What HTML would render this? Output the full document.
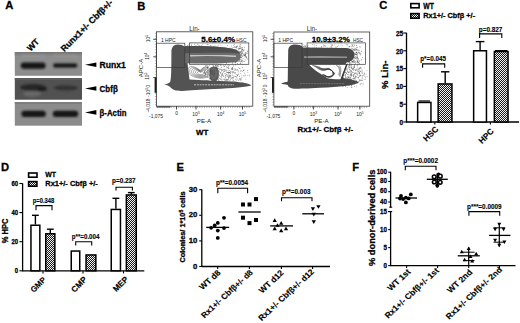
<!DOCTYPE html>
<html><head><meta charset="utf-8"><style>
html,body{margin:0;padding:0;background:#fff;width:520px;height:323px;overflow:hidden}
svg{display:block;font-family:"Liberation Sans",sans-serif}
text{font-family:"Liberation Sans",sans-serif}
</style></head><body>
<svg width="520" height="323" viewBox="0 0 520 323">
<defs>
<linearGradient id="gtop" x1="0" y1="0" x2="0" y2="1"><stop offset="0" stop-color="#757575"/><stop offset="1" stop-color="#8d8d8d"/></linearGradient>
<filter id="bl1" x="-10%" y="-10%" width="120%" height="120%"><feGaussianBlur stdDeviation="0.5"/></filter>
<filter id="bl2" x="-20%" y="-50%" width="140%" height="200%"><feGaussianBlur stdDeviation="0.9"/></filter>
<filter id="bl3" x="-20%" y="-20%" width="140%" height="140%"><feGaussianBlur stdDeviation="0.6"/></filter>
<pattern id="hatch" width="2" height="2" patternUnits="userSpaceOnUse">
<rect width="2" height="2" fill="#181818"/>
<rect x="0" y="0" width="1" height="1" fill="#f4f4f4"/><rect x="1" y="1" width="1" height="1" fill="#f4f4f4"/>
</pattern>
</defs>
<style>text[font-weight="bold"]{stroke:#000;stroke-width:0.28px}</style>
<rect width="520" height="323" fill="#fff"/>
<text x="5.3" y="9.4" font-size="11.2" font-weight="bold" text-anchor="start" fill="#000">A</text>
<text x="30.4" y="51.7" font-size="8.6" font-weight="bold" text-anchor="start" fill="#000" transform="rotate(-45 30.4 51.7)">WT</text>
<text x="64.2" y="52.3" font-size="8.7" font-weight="bold" text-anchor="start" fill="#000" transform="rotate(-45 64.2 52.3)">Runx1+/- Cbfβ+/-</text>
<g filter="url(#bl1)">
<rect x="14.8" y="52" width="67.2" height="23.8" fill="#8d8d8d"/>
<rect x="14.8" y="52" width="67.2" height="4.5" fill="url(#gtop)"/>
<rect x="14.8" y="78" width="67.2" height="21.7" fill="#515151"/>
<rect x="14.8" y="78" width="67.2" height="2" fill="#5c5c5c"/>
<rect x="14.8" y="102" width="67.2" height="23.7" fill="#8b8b8b"/>
<rect x="14.8" y="102" width="67.2" height="2" fill="#7e7e7e"/>
</g>
<g filter="url(#bl2)">
<rect x="21" y="55" width="24" height="1.3" fill="#9a9a9a"/>
<rect x="53" y="55" width="24" height="1.3" fill="#999"/>
<rect x="20.8" y="62.6" width="24.8" height="6.2" rx="3" fill="#161616"/>
<rect x="53" y="63.2" width="24.4" height="4.6" rx="2.3" fill="#1e1e1e"/>
<ellipse cx="33" cy="87.3" rx="13" ry="3.4" fill="#262626"/>
<ellipse cx="42" cy="89.3" rx="5" ry="1.8" fill="#1e1e1e"/>
<ellipse cx="32" cy="94" rx="9" ry="2.8" fill="#686868"/>
<ellipse cx="65.8" cy="87.8" rx="12" ry="2.6" fill="#333"/>
<rect x="21.4" y="110.7" width="24.4" height="6.2" rx="3" fill="#161616"/>
<rect x="52.8" y="110.7" width="25.4" height="6.2" rx="3" fill="#161616"/>
</g>
<polygon points="85,64.7 96.4,62.400000000000006 96.4,67.0" fill="#000"/>
<text x="99.6" y="67.8" font-size="8.8" font-weight="bold" text-anchor="start" fill="#000" textLength="26.2" lengthAdjust="spacingAndGlyphs">Runx1</text>
<polygon points="85,88.5 96.4,86.2 96.4,90.8" fill="#000"/>
<text x="99.6" y="91.6" font-size="8.8" font-weight="bold" text-anchor="start" fill="#000" textLength="18.2" lengthAdjust="spacingAndGlyphs">Cbfβ</text>
<polygon points="85,112.4 96.4,110.10000000000001 96.4,114.7" fill="#000"/>
<text x="99.6" y="115.5" font-size="8.8" font-weight="bold" text-anchor="start" fill="#000" textLength="26.8" lengthAdjust="spacingAndGlyphs">β-Actin</text>
<text x="137.3" y="9.5" font-size="11.2" font-weight="bold" text-anchor="start" fill="#000">B</text>
<g fill="#555"><circle cx="215.4" cy="75.1" r="0.38"/><circle cx="233.0" cy="77.3" r="0.38"/><circle cx="204.6" cy="82.8" r="0.38"/><circle cx="211.2" cy="77.5" r="0.38"/><circle cx="207.1" cy="80.7" r="0.38"/><circle cx="234.1" cy="68.8" r="0.38"/><circle cx="222.5" cy="70.1" r="0.38"/><circle cx="231.5" cy="68.4" r="0.38"/><circle cx="242.4" cy="71.7" r="0.38"/><circle cx="206.1" cy="77.0" r="0.38"/><circle cx="205.5" cy="66.1" r="0.38"/><circle cx="233.3" cy="65.1" r="0.38"/><circle cx="229.0" cy="77.7" r="0.38"/><circle cx="228.3" cy="72.2" r="0.38"/><circle cx="229.0" cy="75.3" r="0.38"/><circle cx="223.9" cy="76.1" r="0.38"/><circle cx="233.6" cy="77.4" r="0.38"/><circle cx="234.1" cy="73.1" r="0.38"/><circle cx="220.9" cy="79.4" r="0.38"/><circle cx="232.4" cy="69.3" r="0.38"/><circle cx="219.0" cy="70.6" r="0.38"/><circle cx="218.4" cy="70.8" r="0.38"/><circle cx="205.3" cy="75.8" r="0.38"/><circle cx="215.5" cy="65.9" r="0.38"/><circle cx="220.0" cy="82.7" r="0.38"/><circle cx="234.8" cy="82.0" r="0.38"/><circle cx="217.0" cy="70.0" r="0.38"/><circle cx="224.1" cy="71.6" r="0.38"/><circle cx="228.9" cy="68.5" r="0.38"/><circle cx="217.8" cy="82.1" r="0.38"/><circle cx="204.6" cy="80.4" r="0.38"/><circle cx="218.4" cy="78.2" r="0.38"/><circle cx="226.9" cy="81.3" r="0.38"/><circle cx="213.5" cy="74.9" r="0.38"/><circle cx="242.7" cy="82.4" r="0.38"/><circle cx="234.2" cy="83.4" r="0.38"/><circle cx="217.0" cy="68.0" r="0.38"/><circle cx="224.3" cy="73.3" r="0.38"/><circle cx="219.2" cy="69.2" r="0.38"/><circle cx="235.1" cy="76.3" r="0.38"/><circle cx="213.2" cy="69.5" r="0.38"/><circle cx="230.7" cy="79.6" r="0.38"/><circle cx="207.8" cy="65.6" r="0.38"/><circle cx="233.0" cy="81.3" r="0.38"/><circle cx="221.9" cy="73.9" r="0.38"/><circle cx="224.2" cy="79.0" r="0.38"/><circle cx="215.8" cy="74.9" r="0.38"/><circle cx="207.4" cy="72.0" r="0.38"/><circle cx="209.0" cy="76.3" r="0.38"/><circle cx="210.9" cy="81.1" r="0.38"/><circle cx="228.5" cy="79.6" r="0.38"/><circle cx="219.6" cy="75.7" r="0.38"/><circle cx="215.6" cy="65.7" r="0.38"/><circle cx="233.6" cy="80.6" r="0.38"/><circle cx="221.6" cy="71.3" r="0.38"/><circle cx="211.7" cy="79.0" r="0.38"/><circle cx="236.3" cy="74.4" r="0.38"/><circle cx="228.8" cy="72.5" r="0.38"/><circle cx="212.9" cy="68.0" r="0.38"/><circle cx="232.1" cy="69.2" r="0.38"/><circle cx="232.1" cy="67.9" r="0.38"/><circle cx="205.1" cy="73.5" r="0.38"/><circle cx="212.3" cy="70.4" r="0.38"/><circle cx="227.0" cy="76.6" r="0.38"/><circle cx="226.4" cy="67.0" r="0.38"/><circle cx="231.9" cy="78.6" r="0.38"/><circle cx="220.1" cy="72.3" r="0.38"/><circle cx="214.1" cy="76.2" r="0.38"/><circle cx="222.8" cy="75.2" r="0.38"/><circle cx="217.2" cy="78.3" r="0.38"/><circle cx="235.4" cy="82.0" r="0.38"/><circle cx="220.9" cy="79.7" r="0.38"/><circle cx="210.8" cy="69.6" r="0.38"/><circle cx="232.7" cy="75.4" r="0.38"/><circle cx="226.0" cy="69.1" r="0.38"/><circle cx="230.1" cy="80.2" r="0.38"/><circle cx="216.8" cy="71.0" r="0.38"/><circle cx="206.0" cy="74.1" r="0.38"/><circle cx="240.9" cy="70.2" r="0.38"/><circle cx="223.4" cy="75.1" r="0.38"/><circle cx="220.9" cy="83.0" r="0.38"/><circle cx="217.0" cy="63.6" r="0.38"/><circle cx="241.4" cy="79.9" r="0.38"/><circle cx="213.1" cy="71.8" r="0.38"/><circle cx="211.0" cy="71.4" r="0.38"/><circle cx="229.3" cy="75.8" r="0.38"/><circle cx="216.0" cy="81.3" r="0.38"/><circle cx="222.4" cy="75.4" r="0.38"/><circle cx="232.9" cy="79.9" r="0.38"/><circle cx="229.1" cy="73.0" r="0.38"/><circle cx="235.0" cy="72.5" r="0.38"/><circle cx="242.0" cy="77.2" r="0.38"/><circle cx="221.3" cy="67.1" r="0.38"/><circle cx="245.8" cy="79.1" r="0.38"/><circle cx="238.4" cy="80.2" r="0.38"/><circle cx="225.0" cy="80.7" r="0.38"/><circle cx="209.2" cy="62.1" r="0.38"/><circle cx="213.6" cy="65.2" r="0.38"/><circle cx="237.6" cy="75.0" r="0.38"/><circle cx="235.2" cy="68.9" r="0.38"/><circle cx="240.3" cy="71.4" r="0.38"/><circle cx="221.8" cy="74.8" r="0.38"/><circle cx="213.4" cy="66.4" r="0.38"/><circle cx="223.4" cy="65.4" r="0.38"/><circle cx="209.3" cy="65.4" r="0.38"/><circle cx="223.6" cy="79.3" r="0.38"/><circle cx="223.4" cy="71.3" r="0.38"/><circle cx="220.6" cy="64.2" r="0.38"/><circle cx="234.2" cy="70.0" r="0.38"/><circle cx="212.2" cy="62.0" r="0.38"/><circle cx="218.6" cy="76.8" r="0.38"/><circle cx="209.5" cy="71.1" r="0.38"/><circle cx="227.1" cy="68.0" r="0.38"/><circle cx="222.6" cy="73.7" r="0.38"/><circle cx="240.4" cy="78.6" r="0.38"/><circle cx="215.6" cy="62.3" r="0.38"/><circle cx="234.9" cy="76.2" r="0.38"/><circle cx="231.0" cy="71.9" r="0.38"/><circle cx="213.0" cy="65.6" r="0.38"/><circle cx="208.1" cy="73.1" r="0.38"/><circle cx="232.9" cy="72.6" r="0.38"/><circle cx="213.9" cy="75.0" r="0.38"/><circle cx="233.1" cy="66.6" r="0.38"/><circle cx="208.0" cy="66.7" r="0.38"/><circle cx="218.1" cy="74.5" r="0.38"/><circle cx="205.9" cy="80.4" r="0.38"/><circle cx="224.8" cy="70.0" r="0.38"/><circle cx="239.8" cy="68.5" r="0.38"/><circle cx="218.4" cy="71.7" r="0.38"/><circle cx="221.9" cy="65.2" r="0.38"/><circle cx="226.2" cy="74.7" r="0.38"/><circle cx="221.3" cy="83.2" r="0.38"/><circle cx="229.7" cy="65.3" r="0.38"/><circle cx="213.8" cy="81.0" r="0.38"/><circle cx="205.7" cy="65.8" r="0.38"/><circle cx="224.8" cy="69.8" r="0.38"/><circle cx="215.9" cy="81.9" r="0.38"/><circle cx="242.8" cy="67.4" r="0.38"/><circle cx="243.9" cy="75.3" r="0.38"/><circle cx="232.9" cy="71.8" r="0.38"/><circle cx="220.9" cy="72.8" r="0.38"/><circle cx="219.1" cy="74.6" r="0.38"/><circle cx="230.4" cy="73.7" r="0.38"/><circle cx="236.1" cy="70.7" r="0.38"/><circle cx="213.4" cy="84.9" r="0.38"/><circle cx="222.4" cy="82.5" r="0.38"/><circle cx="219.2" cy="71.2" r="0.38"/><circle cx="207.8" cy="67.0" r="0.38"/><circle cx="207.8" cy="74.7" r="0.38"/><circle cx="207.3" cy="68.0" r="0.38"/><circle cx="216.9" cy="75.2" r="0.38"/><circle cx="215.3" cy="85.9" r="0.38"/><circle cx="236.4" cy="77.8" r="0.38"/><circle cx="206.6" cy="80.7" r="0.38"/><circle cx="211.0" cy="64.3" r="0.38"/><circle cx="227.3" cy="79.3" r="0.38"/><circle cx="205.0" cy="70.0" r="0.38"/><circle cx="241.5" cy="75.8" r="0.38"/><circle cx="229.8" cy="72.5" r="0.38"/><circle cx="216.8" cy="66.3" r="0.38"/><circle cx="229.2" cy="80.9" r="0.38"/><circle cx="229.9" cy="72.5" r="0.38"/><circle cx="232.8" cy="69.4" r="0.38"/><circle cx="221.9" cy="69.3" r="0.38"/><circle cx="228.0" cy="80.0" r="0.38"/><circle cx="225.7" cy="73.4" r="0.38"/><circle cx="225.2" cy="77.1" r="0.38"/><circle cx="206.8" cy="83.2" r="0.38"/><circle cx="218.4" cy="74.1" r="0.38"/><circle cx="221.9" cy="77.9" r="0.38"/><circle cx="232.1" cy="64.8" r="0.38"/><circle cx="221.8" cy="77.0" r="0.38"/><circle cx="207.9" cy="69.3" r="0.38"/><circle cx="222.2" cy="73.4" r="0.38"/><circle cx="232.7" cy="63.2" r="0.38"/><circle cx="212.8" cy="68.1" r="0.38"/><circle cx="228.6" cy="72.2" r="0.38"/><circle cx="235.7" cy="72.3" r="0.38"/><circle cx="219.9" cy="71.9" r="0.38"/><circle cx="208.2" cy="77.7" r="0.38"/><circle cx="208.1" cy="67.0" r="0.38"/><circle cx="245.2" cy="75.0" r="0.38"/><circle cx="210.4" cy="74.8" r="0.38"/><circle cx="206.9" cy="72.3" r="0.38"/><circle cx="213.3" cy="83.7" r="0.38"/><circle cx="206.7" cy="71.4" r="0.38"/><circle cx="212.5" cy="67.5" r="0.38"/><circle cx="237.3" cy="69.8" r="0.38"/><circle cx="214.6" cy="72.5" r="0.38"/><circle cx="215.8" cy="79.2" r="0.38"/><circle cx="236.2" cy="76.8" r="0.38"/><circle cx="232.7" cy="77.3" r="0.38"/><circle cx="227.5" cy="76.1" r="0.38"/><circle cx="232.0" cy="82.4" r="0.38"/><circle cx="208.5" cy="80.8" r="0.38"/><circle cx="239.9" cy="68.6" r="0.38"/><circle cx="236.6" cy="80.1" r="0.38"/><circle cx="227.0" cy="75.7" r="0.38"/><circle cx="237.5" cy="75.6" r="0.38"/><circle cx="209.3" cy="75.4" r="0.38"/><circle cx="213.4" cy="71.6" r="0.38"/><circle cx="213.7" cy="74.1" r="0.38"/><circle cx="207.2" cy="68.2" r="0.38"/><circle cx="226.9" cy="72.3" r="0.38"/><circle cx="228.5" cy="66.2" r="0.38"/><circle cx="211.9" cy="78.3" r="0.38"/><circle cx="224.5" cy="81.9" r="0.38"/><circle cx="230.1" cy="76.2" r="0.38"/><circle cx="214.1" cy="80.7" r="0.38"/><circle cx="227.3" cy="80.2" r="0.38"/><circle cx="230.1" cy="78.4" r="0.38"/><circle cx="208.0" cy="81.4" r="0.38"/><circle cx="216.6" cy="79.2" r="0.38"/><circle cx="217.5" cy="79.2" r="0.38"/><circle cx="205.6" cy="74.5" r="0.38"/><circle cx="222.6" cy="81.9" r="0.38"/><circle cx="236.0" cy="69.5" r="0.38"/><circle cx="225.7" cy="81.8" r="0.38"/><circle cx="215.0" cy="71.8" r="0.38"/><circle cx="219.2" cy="75.9" r="0.38"/><circle cx="232.7" cy="68.5" r="0.38"/><circle cx="205.3" cy="69.8" r="0.38"/><circle cx="229.0" cy="72.1" r="0.38"/><circle cx="207.0" cy="81.7" r="0.38"/><circle cx="233.9" cy="72.4" r="0.38"/><circle cx="218.6" cy="73.3" r="0.38"/><circle cx="208.3" cy="86.1" r="0.38"/><circle cx="228.4" cy="77.4" r="0.38"/><circle cx="230.9" cy="71.2" r="0.38"/><circle cx="216.3" cy="70.3" r="0.38"/><circle cx="213.7" cy="69.8" r="0.38"/><circle cx="215.5" cy="76.2" r="0.38"/><circle cx="215.6" cy="65.7" r="0.38"/><circle cx="212.6" cy="74.0" r="0.38"/><circle cx="217.1" cy="66.7" r="0.38"/><circle cx="213.4" cy="76.8" r="0.38"/><circle cx="227.0" cy="70.8" r="0.38"/><circle cx="224.8" cy="66.2" r="0.38"/><circle cx="224.3" cy="69.2" r="0.38"/><circle cx="220.0" cy="68.9" r="0.38"/><circle cx="230.0" cy="75.6" r="0.38"/><circle cx="207.4" cy="67.5" r="0.38"/><circle cx="247.9" cy="75.5" r="0.38"/><circle cx="223.1" cy="70.0" r="0.38"/><circle cx="232.5" cy="67.5" r="0.38"/><circle cx="220.5" cy="65.4" r="0.38"/><circle cx="209.5" cy="69.2" r="0.38"/><circle cx="223.5" cy="69.7" r="0.38"/><circle cx="227.4" cy="81.2" r="0.38"/><circle cx="240.9" cy="73.5" r="0.38"/><circle cx="212.2" cy="83.0" r="0.38"/><circle cx="222.4" cy="74.4" r="0.38"/><circle cx="222.0" cy="70.4" r="0.38"/><circle cx="204.5" cy="75.2" r="0.38"/><circle cx="227.8" cy="72.7" r="0.38"/><circle cx="209.5" cy="83.5" r="0.38"/><circle cx="242.2" cy="67.8" r="0.38"/><circle cx="217.5" cy="78.2" r="0.38"/><circle cx="214.1" cy="79.6" r="0.38"/><circle cx="240.8" cy="79.2" r="0.38"/><circle cx="213.2" cy="74.9" r="0.38"/><circle cx="214.4" cy="76.3" r="0.38"/><circle cx="225.0" cy="71.1" r="0.38"/><circle cx="237.5" cy="69.3" r="0.38"/><circle cx="224.7" cy="66.6" r="0.38"/><circle cx="220.9" cy="76.6" r="0.38"/><circle cx="235.7" cy="76.6" r="0.38"/><circle cx="227.8" cy="74.6" r="0.38"/><circle cx="218.3" cy="83.1" r="0.38"/><circle cx="227.3" cy="72.5" r="0.38"/><circle cx="213.7" cy="67.8" r="0.38"/><circle cx="230.9" cy="76.0" r="0.38"/><circle cx="225.8" cy="75.7" r="0.38"/><circle cx="204.1" cy="72.4" r="0.38"/><circle cx="206.1" cy="81.5" r="0.38"/><circle cx="218.1" cy="77.3" r="0.38"/><circle cx="221.4" cy="75.0" r="0.38"/><circle cx="215.4" cy="79.5" r="0.38"/><circle cx="207.0" cy="80.5" r="0.38"/><circle cx="218.7" cy="64.2" r="0.38"/><circle cx="237.0" cy="83.0" r="0.38"/><circle cx="216.7" cy="70.6" r="0.38"/><circle cx="221.8" cy="70.2" r="0.38"/><circle cx="215.0" cy="84.0" r="0.38"/><circle cx="235.1" cy="73.6" r="0.38"/><circle cx="214.1" cy="80.7" r="0.38"/><circle cx="243.6" cy="70.3" r="0.38"/><circle cx="230.9" cy="72.3" r="0.38"/><circle cx="229.1" cy="70.7" r="0.38"/><circle cx="225.5" cy="77.9" r="0.38"/><circle cx="233.9" cy="76.2" r="0.38"/><circle cx="226.7" cy="80.6" r="0.38"/><circle cx="240.7" cy="80.8" r="0.38"/><circle cx="209.5" cy="75.1" r="0.38"/><circle cx="214.8" cy="81.6" r="0.38"/><circle cx="212.1" cy="80.9" r="0.38"/><circle cx="223.9" cy="66.8" r="0.38"/><circle cx="237.8" cy="75.6" r="0.38"/><circle cx="228.0" cy="65.0" r="0.38"/><circle cx="243.5" cy="70.2" r="0.38"/><circle cx="212.3" cy="77.3" r="0.38"/><circle cx="216.0" cy="73.0" r="0.38"/><circle cx="223.6" cy="76.7" r="0.38"/><circle cx="215.3" cy="71.9" r="0.38"/><circle cx="208.3" cy="85.1" r="0.38"/><circle cx="207.3" cy="67.7" r="0.38"/><circle cx="238.3" cy="71.0" r="0.38"/><circle cx="211.5" cy="75.2" r="0.38"/><circle cx="230.2" cy="77.3" r="0.38"/><circle cx="216.3" cy="78.9" r="0.38"/><circle cx="213.4" cy="74.5" r="0.38"/><circle cx="221.9" cy="79.3" r="0.38"/><circle cx="223.1" cy="72.4" r="0.38"/><circle cx="218.6" cy="79.5" r="0.38"/><circle cx="226.3" cy="63.5" r="0.38"/><circle cx="227.8" cy="79.5" r="0.38"/><circle cx="239.4" cy="76.2" r="0.38"/><circle cx="229.0" cy="76.9" r="0.38"/><circle cx="212.5" cy="70.7" r="0.38"/><circle cx="218.9" cy="77.7" r="0.38"/><circle cx="232.2" cy="73.8" r="0.38"/><circle cx="207.3" cy="77.4" r="0.38"/><circle cx="211.3" cy="80.7" r="0.38"/><circle cx="215.9" cy="69.4" r="0.38"/><circle cx="220.3" cy="73.4" r="0.38"/><circle cx="221.9" cy="69.7" r="0.38"/><circle cx="210.3" cy="75.4" r="0.38"/><circle cx="229.0" cy="74.1" r="0.38"/><circle cx="243.9" cy="75.9" r="0.38"/><circle cx="207.6" cy="83.1" r="0.38"/><circle cx="220.0" cy="68.9" r="0.38"/><circle cx="237.0" cy="76.0" r="0.38"/><circle cx="231.2" cy="68.9" r="0.38"/><circle cx="247.8" cy="70.5" r="0.38"/><circle cx="220.3" cy="64.9" r="0.38"/><circle cx="218.6" cy="84.3" r="0.38"/><circle cx="225.3" cy="64.4" r="0.38"/><circle cx="229.1" cy="70.5" r="0.38"/><circle cx="214.4" cy="69.1" r="0.38"/><circle cx="245.0" cy="75.9" r="0.38"/><circle cx="217.6" cy="68.4" r="0.38"/><circle cx="208.2" cy="74.7" r="0.38"/><circle cx="217.1" cy="77.2" r="0.38"/><circle cx="206.7" cy="67.2" r="0.38"/><circle cx="228.3" cy="68.1" r="0.38"/><circle cx="214.6" cy="63.0" r="0.38"/><circle cx="228.2" cy="67.7" r="0.38"/><circle cx="233.0" cy="72.6" r="0.38"/><circle cx="233.4" cy="78.8" r="0.38"/><circle cx="244.5" cy="73.0" r="0.38"/><circle cx="205.2" cy="72.4" r="0.38"/><circle cx="216.2" cy="80.8" r="0.38"/><circle cx="218.1" cy="82.5" r="0.38"/><circle cx="208.1" cy="68.3" r="0.38"/><circle cx="235.3" cy="65.0" r="0.38"/><circle cx="213.8" cy="70.7" r="0.38"/><circle cx="205.1" cy="73.7" r="0.38"/><circle cx="232.9" cy="68.1" r="0.38"/><circle cx="228.1" cy="65.8" r="0.38"/><circle cx="243.6" cy="70.1" r="0.38"/><circle cx="217.7" cy="74.6" r="0.38"/><circle cx="220.9" cy="69.4" r="0.38"/><circle cx="228.2" cy="76.6" r="0.38"/><circle cx="218.6" cy="66.4" r="0.38"/><circle cx="217.3" cy="66.0" r="0.38"/><circle cx="226.3" cy="79.1" r="0.38"/><circle cx="239.4" cy="76.8" r="0.38"/><circle cx="218.1" cy="73.1" r="0.38"/><circle cx="216.3" cy="82.5" r="0.38"/><circle cx="208.1" cy="83.1" r="0.38"/><circle cx="229.4" cy="76.3" r="0.38"/><circle cx="219.3" cy="81.0" r="0.38"/><circle cx="218.6" cy="80.5" r="0.38"/><circle cx="228.4" cy="73.3" r="0.38"/><circle cx="235.3" cy="79.2" r="0.38"/><circle cx="247.9" cy="72.2" r="0.38"/><circle cx="232.3" cy="68.2" r="0.38"/><circle cx="208.5" cy="70.3" r="0.38"/><circle cx="218.5" cy="68.2" r="0.38"/><circle cx="238.8" cy="72.9" r="0.38"/><circle cx="221.1" cy="75.8" r="0.38"/><circle cx="249.2" cy="74.8" r="0.38"/><circle cx="238.8" cy="74.2" r="0.38"/><circle cx="213.9" cy="76.9" r="0.38"/><circle cx="235.2" cy="70.1" r="0.38"/><circle cx="222.0" cy="80.6" r="0.38"/><circle cx="213.1" cy="76.2" r="0.38"/><circle cx="220.7" cy="83.2" r="0.38"/><circle cx="228.6" cy="78.3" r="0.38"/><circle cx="230.2" cy="73.9" r="0.38"/><circle cx="249.8" cy="75.9" r="0.38"/><circle cx="213.0" cy="77.9" r="0.38"/><circle cx="211.3" cy="74.6" r="0.38"/><circle cx="226.6" cy="74.2" r="0.38"/><circle cx="208.9" cy="71.0" r="0.38"/><circle cx="221.4" cy="82.6" r="0.38"/><circle cx="219.7" cy="82.8" r="0.38"/><circle cx="212.7" cy="84.2" r="0.38"/><circle cx="237.1" cy="79.0" r="0.38"/><circle cx="228.9" cy="77.3" r="0.38"/><circle cx="217.6" cy="65.5" r="0.38"/><circle cx="213.7" cy="74.2" r="0.38"/><circle cx="213.5" cy="72.8" r="0.38"/><circle cx="231.3" cy="69.1" r="0.38"/><circle cx="218.6" cy="64.9" r="0.38"/><circle cx="225.6" cy="75.1" r="0.38"/><circle cx="218.6" cy="74.3" r="0.38"/><circle cx="244.4" cy="70.1" r="0.38"/><circle cx="223.4" cy="84.0" r="0.38"/><circle cx="232.2" cy="71.1" r="0.38"/><circle cx="217.0" cy="77.9" r="0.38"/><circle cx="226.2" cy="84.3" r="0.38"/><circle cx="230.5" cy="75.8" r="0.38"/><circle cx="212.8" cy="78.4" r="0.38"/><circle cx="229.6" cy="72.7" r="0.38"/><circle cx="206.0" cy="83.3" r="0.38"/><circle cx="217.3" cy="68.9" r="0.38"/><circle cx="217.9" cy="68.5" r="0.38"/><circle cx="239.2" cy="79.8" r="0.38"/><circle cx="213.2" cy="80.7" r="0.38"/><circle cx="220.9" cy="78.3" r="0.38"/><circle cx="209.5" cy="79.0" r="0.38"/><circle cx="210.8" cy="76.9" r="0.38"/><circle cx="212.4" cy="72.4" r="0.38"/><circle cx="216.5" cy="78.5" r="0.38"/><circle cx="216.4" cy="65.5" r="0.38"/><circle cx="239.8" cy="78.3" r="0.38"/><circle cx="212.0" cy="70.8" r="0.38"/><circle cx="207.6" cy="76.5" r="0.38"/><circle cx="241.2" cy="70.3" r="0.38"/><circle cx="224.4" cy="79.2" r="0.38"/><circle cx="230.9" cy="75.8" r="0.38"/><circle cx="226.6" cy="71.9" r="0.38"/><circle cx="226.1" cy="80.0" r="0.38"/><circle cx="214.7" cy="75.0" r="0.38"/><circle cx="238.7" cy="67.6" r="0.38"/><circle cx="227.5" cy="67.7" r="0.38"/><circle cx="217.6" cy="78.1" r="0.38"/><circle cx="214.8" cy="67.5" r="0.38"/><circle cx="211.2" cy="76.1" r="0.38"/><circle cx="208.3" cy="72.2" r="0.38"/><circle cx="225.8" cy="79.9" r="0.38"/><circle cx="204.5" cy="70.3" r="0.38"/><circle cx="225.1" cy="65.6" r="0.38"/><circle cx="218.7" cy="64.8" r="0.38"/><circle cx="209.2" cy="78.2" r="0.38"/><circle cx="225.1" cy="76.8" r="0.38"/><circle cx="206.4" cy="65.7" r="0.38"/><circle cx="213.0" cy="67.6" r="0.38"/><circle cx="217.8" cy="81.7" r="0.38"/><circle cx="219.4" cy="78.7" r="0.38"/><circle cx="224.5" cy="71.3" r="0.38"/><circle cx="233.3" cy="71.7" r="0.38"/><circle cx="226.6" cy="79.4" r="0.38"/><circle cx="216.7" cy="74.3" r="0.38"/><circle cx="238.0" cy="70.9" r="0.38"/><circle cx="215.9" cy="67.1" r="0.38"/><circle cx="232.2" cy="78.0" r="0.38"/><circle cx="240.1" cy="79.5" r="0.38"/><circle cx="212.4" cy="64.4" r="0.38"/><circle cx="226.9" cy="70.6" r="0.38"/><circle cx="225.0" cy="79.9" r="0.38"/><circle cx="214.1" cy="82.4" r="0.38"/><circle cx="221.4" cy="82.3" r="0.38"/><circle cx="204.3" cy="72.0" r="0.38"/><circle cx="209.4" cy="71.2" r="0.38"/><circle cx="207.6" cy="70.5" r="0.38"/><circle cx="205.3" cy="81.3" r="0.38"/><circle cx="241.4" cy="78.6" r="0.38"/><circle cx="220.4" cy="72.7" r="0.38"/><circle cx="204.6" cy="72.0" r="0.38"/><circle cx="213.2" cy="80.4" r="0.38"/><circle cx="237.4" cy="74.9" r="0.38"/><circle cx="231.3" cy="78.0" r="0.38"/><circle cx="229.0" cy="75.8" r="0.38"/><circle cx="217.0" cy="73.3" r="0.38"/><circle cx="230.9" cy="71.7" r="0.38"/><circle cx="225.8" cy="70.6" r="0.38"/><circle cx="230.9" cy="82.3" r="0.38"/><circle cx="221.1" cy="67.3" r="0.38"/></g>
<g fill="#444"><circle cx="230.9" cy="55.9" r="0.38"/><circle cx="240.8" cy="55.1" r="0.38"/><circle cx="245.0" cy="56.1" r="0.38"/><circle cx="244.7" cy="55.2" r="0.38"/><circle cx="239.2" cy="53.3" r="0.38"/><circle cx="232.7" cy="62.5" r="0.38"/><circle cx="237.8" cy="54.3" r="0.38"/><circle cx="230.5" cy="58.2" r="0.38"/><circle cx="233.8" cy="60.9" r="0.38"/><circle cx="238.3" cy="64.7" r="0.38"/><circle cx="239.5" cy="48.7" r="0.38"/><circle cx="229.9" cy="54.0" r="0.38"/><circle cx="244.0" cy="50.0" r="0.38"/><circle cx="247.2" cy="51.0" r="0.38"/><circle cx="234.0" cy="50.0" r="0.38"/><circle cx="247.6" cy="53.2" r="0.38"/><circle cx="240.9" cy="46.6" r="0.38"/><circle cx="231.3" cy="52.9" r="0.38"/><circle cx="244.3" cy="55.0" r="0.38"/><circle cx="231.6" cy="48.8" r="0.38"/><circle cx="240.4" cy="59.5" r="0.38"/><circle cx="247.3" cy="59.0" r="0.38"/><circle cx="236.4" cy="55.6" r="0.38"/><circle cx="245.0" cy="57.6" r="0.38"/><circle cx="234.0" cy="61.4" r="0.38"/><circle cx="243.3" cy="50.5" r="0.38"/><circle cx="237.3" cy="53.4" r="0.38"/><circle cx="235.3" cy="62.2" r="0.38"/><circle cx="236.9" cy="51.1" r="0.38"/><circle cx="245.9" cy="60.1" r="0.38"/><circle cx="232.9" cy="56.1" r="0.38"/><circle cx="241.7" cy="54.6" r="0.38"/><circle cx="240.9" cy="57.6" r="0.38"/><circle cx="239.5" cy="53.6" r="0.38"/><circle cx="243.0" cy="51.7" r="0.38"/><circle cx="234.2" cy="56.8" r="0.38"/><circle cx="233.2" cy="50.2" r="0.38"/><circle cx="240.9" cy="60.9" r="0.38"/><circle cx="241.5" cy="50.4" r="0.38"/><circle cx="245.8" cy="52.6" r="0.38"/><circle cx="244.0" cy="49.8" r="0.38"/><circle cx="241.3" cy="57.8" r="0.38"/><circle cx="246.9" cy="58.0" r="0.38"/><circle cx="246.2" cy="57.5" r="0.38"/><circle cx="231.8" cy="55.6" r="0.38"/><circle cx="241.3" cy="60.4" r="0.38"/><circle cx="234.5" cy="53.2" r="0.38"/><circle cx="236.5" cy="60.2" r="0.38"/><circle cx="241.4" cy="57.5" r="0.38"/><circle cx="247.7" cy="51.5" r="0.38"/><circle cx="241.7" cy="55.0" r="0.38"/><circle cx="239.2" cy="49.0" r="0.38"/><circle cx="244.2" cy="55.2" r="0.38"/><circle cx="236.5" cy="46.5" r="0.38"/><circle cx="232.6" cy="52.3" r="0.38"/><circle cx="235.6" cy="47.2" r="0.38"/><circle cx="242.6" cy="52.8" r="0.38"/><circle cx="231.6" cy="55.3" r="0.38"/><circle cx="245.6" cy="55.0" r="0.38"/><circle cx="230.0" cy="47.9" r="0.38"/><circle cx="240.7" cy="63.2" r="0.38"/><circle cx="238.0" cy="56.0" r="0.38"/><circle cx="231.2" cy="56.8" r="0.38"/><circle cx="239.7" cy="51.3" r="0.38"/><circle cx="236.2" cy="51.5" r="0.38"/><circle cx="242.1" cy="53.0" r="0.38"/><circle cx="239.2" cy="60.4" r="0.38"/><circle cx="235.6" cy="62.2" r="0.38"/><circle cx="235.6" cy="50.5" r="0.38"/><circle cx="231.7" cy="51.0" r="0.38"/><circle cx="238.0" cy="51.8" r="0.38"/><circle cx="230.3" cy="54.3" r="0.38"/><circle cx="239.3" cy="56.1" r="0.38"/><circle cx="230.6" cy="54.3" r="0.38"/><circle cx="232.3" cy="53.0" r="0.38"/><circle cx="227.6" cy="53.4" r="0.38"/><circle cx="232.4" cy="55.4" r="0.38"/><circle cx="239.9" cy="55.3" r="0.38"/><circle cx="233.1" cy="51.1" r="0.38"/><circle cx="242.9" cy="56.1" r="0.38"/><circle cx="237.5" cy="55.9" r="0.38"/><circle cx="240.3" cy="56.1" r="0.38"/><circle cx="235.9" cy="51.0" r="0.38"/><circle cx="233.0" cy="50.2" r="0.38"/><circle cx="230.6" cy="54.6" r="0.38"/><circle cx="234.1" cy="58.9" r="0.38"/><circle cx="244.4" cy="47.2" r="0.38"/><circle cx="238.2" cy="48.3" r="0.38"/><circle cx="235.7" cy="60.6" r="0.38"/><circle cx="235.6" cy="60.7" r="0.38"/><circle cx="242.7" cy="56.7" r="0.38"/><circle cx="241.6" cy="53.4" r="0.38"/><circle cx="240.8" cy="48.7" r="0.38"/><circle cx="235.3" cy="53.0" r="0.38"/><circle cx="241.4" cy="61.3" r="0.38"/><circle cx="242.3" cy="49.7" r="0.38"/><circle cx="231.6" cy="57.9" r="0.38"/><circle cx="240.2" cy="47.2" r="0.38"/><circle cx="238.6" cy="49.6" r="0.38"/><circle cx="233.7" cy="56.8" r="0.38"/><circle cx="240.0" cy="45.8" r="0.38"/><circle cx="231.4" cy="58.4" r="0.38"/><circle cx="234.6" cy="56.1" r="0.38"/><circle cx="227.8" cy="54.1" r="0.38"/><circle cx="233.6" cy="60.0" r="0.38"/><circle cx="242.8" cy="51.0" r="0.38"/><circle cx="237.7" cy="46.1" r="0.38"/><circle cx="234.0" cy="55.3" r="0.38"/><circle cx="236.7" cy="49.2" r="0.38"/><circle cx="238.0" cy="57.4" r="0.38"/><circle cx="229.5" cy="55.2" r="0.38"/><circle cx="234.4" cy="47.3" r="0.38"/><circle cx="239.8" cy="52.6" r="0.38"/><circle cx="236.3" cy="59.1" r="0.38"/><circle cx="243.1" cy="61.5" r="0.38"/><circle cx="234.2" cy="51.4" r="0.38"/><circle cx="238.7" cy="52.3" r="0.38"/><circle cx="234.0" cy="62.0" r="0.38"/><circle cx="237.3" cy="61.5" r="0.38"/><circle cx="240.8" cy="62.8" r="0.38"/><circle cx="235.4" cy="49.4" r="0.38"/><circle cx="234.6" cy="61.7" r="0.38"/><circle cx="235.9" cy="64.1" r="0.38"/><circle cx="244.7" cy="55.4" r="0.38"/><circle cx="235.7" cy="55.4" r="0.38"/><circle cx="244.9" cy="59.8" r="0.38"/><circle cx="234.5" cy="55.8" r="0.38"/><circle cx="233.4" cy="50.8" r="0.38"/><circle cx="235.9" cy="58.6" r="0.38"/><circle cx="238.9" cy="52.6" r="0.38"/><circle cx="236.3" cy="46.9" r="0.38"/><circle cx="234.0" cy="51.6" r="0.38"/><circle cx="238.2" cy="54.2" r="0.38"/><circle cx="239.4" cy="54.6" r="0.38"/><circle cx="240.4" cy="52.8" r="0.38"/><circle cx="228.9" cy="56.1" r="0.38"/><circle cx="232.6" cy="53.5" r="0.38"/><circle cx="242.1" cy="47.9" r="0.38"/><circle cx="233.5" cy="58.4" r="0.38"/><circle cx="240.4" cy="44.4" r="0.38"/><circle cx="238.5" cy="55.4" r="0.38"/><circle cx="238.8" cy="52.5" r="0.38"/><circle cx="242.1" cy="49.3" r="0.38"/><circle cx="242.4" cy="53.7" r="0.38"/><circle cx="229.2" cy="56.7" r="0.38"/><circle cx="231.1" cy="56.5" r="0.38"/><circle cx="242.6" cy="49.3" r="0.38"/><circle cx="234.6" cy="53.9" r="0.38"/><circle cx="232.5" cy="51.5" r="0.38"/><circle cx="230.2" cy="54.7" r="0.38"/><circle cx="237.6" cy="57.9" r="0.38"/><circle cx="240.6" cy="52.5" r="0.38"/><circle cx="235.4" cy="46.9" r="0.38"/><circle cx="236.4" cy="61.7" r="0.38"/><circle cx="241.9" cy="47.7" r="0.38"/><circle cx="240.1" cy="57.4" r="0.38"/><circle cx="246.7" cy="53.4" r="0.38"/><circle cx="237.7" cy="50.9" r="0.38"/><circle cx="239.3" cy="48.3" r="0.38"/><circle cx="238.0" cy="48.0" r="0.38"/><circle cx="231.4" cy="49.4" r="0.38"/><circle cx="239.3" cy="60.8" r="0.38"/><circle cx="242.1" cy="48.0" r="0.38"/><circle cx="236.1" cy="56.5" r="0.38"/><circle cx="236.7" cy="47.1" r="0.38"/><circle cx="237.2" cy="56.9" r="0.38"/><circle cx="240.6" cy="54.4" r="0.38"/><circle cx="241.0" cy="53.7" r="0.38"/><circle cx="230.8" cy="52.5" r="0.38"/><circle cx="241.0" cy="61.7" r="0.38"/><circle cx="241.5" cy="51.7" r="0.38"/><circle cx="245.1" cy="55.6" r="0.38"/><circle cx="237.2" cy="54.5" r="0.38"/><circle cx="237.5" cy="63.5" r="0.38"/><circle cx="232.4" cy="48.1" r="0.38"/><circle cx="238.8" cy="56.5" r="0.38"/><circle cx="238.3" cy="55.0" r="0.38"/><circle cx="241.1" cy="61.2" r="0.38"/><circle cx="238.8" cy="52.1" r="0.38"/><circle cx="241.4" cy="54.9" r="0.38"/><circle cx="241.9" cy="50.0" r="0.38"/><circle cx="243.2" cy="54.8" r="0.38"/><circle cx="242.8" cy="60.2" r="0.38"/><circle cx="236.5" cy="61.2" r="0.38"/><circle cx="235.9" cy="53.4" r="0.38"/><circle cx="232.0" cy="51.8" r="0.38"/><circle cx="238.7" cy="53.4" r="0.38"/><circle cx="240.7" cy="56.9" r="0.38"/><circle cx="231.7" cy="55.7" r="0.38"/><circle cx="238.4" cy="57.8" r="0.38"/><circle cx="238.7" cy="58.8" r="0.38"/><circle cx="236.3" cy="52.2" r="0.38"/><circle cx="230.8" cy="57.7" r="0.38"/><circle cx="229.4" cy="54.5" r="0.38"/><circle cx="244.6" cy="61.7" r="0.38"/><circle cx="232.9" cy="54.7" r="0.38"/><circle cx="236.3" cy="56.6" r="0.38"/><circle cx="239.5" cy="56.8" r="0.38"/><circle cx="237.1" cy="56.5" r="0.38"/><circle cx="239.1" cy="55.9" r="0.38"/><circle cx="230.0" cy="60.9" r="0.38"/><circle cx="243.0" cy="58.7" r="0.38"/><circle cx="240.7" cy="48.6" r="0.38"/><circle cx="235.2" cy="56.4" r="0.38"/><circle cx="229.9" cy="50.4" r="0.38"/><circle cx="236.2" cy="56.9" r="0.38"/><circle cx="243.1" cy="53.6" r="0.38"/><circle cx="236.5" cy="47.8" r="0.38"/><circle cx="233.9" cy="53.5" r="0.38"/><circle cx="234.3" cy="58.1" r="0.38"/><circle cx="232.5" cy="51.6" r="0.38"/><circle cx="245.0" cy="53.7" r="0.38"/><circle cx="239.2" cy="61.6" r="0.38"/><circle cx="240.9" cy="51.7" r="0.38"/><circle cx="235.9" cy="60.5" r="0.38"/><circle cx="245.3" cy="55.8" r="0.38"/><circle cx="232.1" cy="52.5" r="0.38"/><circle cx="238.8" cy="61.6" r="0.38"/><circle cx="237.0" cy="55.8" r="0.38"/><circle cx="242.9" cy="64.2" r="0.38"/><circle cx="235.2" cy="55.0" r="0.38"/><circle cx="230.2" cy="57.8" r="0.38"/><circle cx="228.8" cy="57.0" r="0.38"/><circle cx="246.2" cy="56.7" r="0.38"/><circle cx="246.6" cy="57.0" r="0.38"/><circle cx="235.9" cy="62.3" r="0.38"/><circle cx="234.1" cy="58.1" r="0.38"/><circle cx="244.0" cy="54.3" r="0.38"/><circle cx="240.1" cy="52.1" r="0.38"/><circle cx="242.4" cy="62.1" r="0.38"/><circle cx="239.3" cy="46.5" r="0.38"/><circle cx="241.4" cy="52.2" r="0.38"/><circle cx="238.9" cy="51.9" r="0.38"/><circle cx="238.4" cy="52.3" r="0.38"/><circle cx="245.5" cy="56.3" r="0.38"/><circle cx="238.1" cy="53.5" r="0.38"/><circle cx="234.2" cy="54.0" r="0.38"/><circle cx="234.0" cy="61.6" r="0.38"/><circle cx="231.8" cy="56.8" r="0.38"/><circle cx="240.3" cy="63.4" r="0.38"/><circle cx="241.3" cy="59.1" r="0.38"/><circle cx="241.7" cy="48.9" r="0.38"/><circle cx="240.9" cy="51.4" r="0.38"/><circle cx="240.1" cy="55.1" r="0.38"/><circle cx="239.3" cy="48.1" r="0.38"/><circle cx="230.7" cy="54.2" r="0.38"/><circle cx="242.1" cy="60.6" r="0.38"/><circle cx="243.0" cy="55.5" r="0.38"/><circle cx="246.0" cy="52.3" r="0.38"/><circle cx="232.8" cy="58.0" r="0.38"/><circle cx="245.1" cy="53.1" r="0.38"/><circle cx="245.8" cy="54.1" r="0.38"/><circle cx="239.6" cy="59.7" r="0.38"/><circle cx="238.9" cy="50.9" r="0.38"/><circle cx="231.1" cy="52.9" r="0.38"/><circle cx="245.7" cy="54.5" r="0.38"/><circle cx="241.3" cy="56.0" r="0.38"/><circle cx="233.1" cy="47.5" r="0.38"/><circle cx="235.2" cy="60.2" r="0.38"/><circle cx="245.2" cy="54.4" r="0.38"/></g>
<g fill="#444"><circle cx="199.0" cy="47.8" r="0.38"/><circle cx="193.7" cy="46.8" r="0.38"/><circle cx="191.5" cy="45.0" r="0.38"/><circle cx="240.0" cy="44.8" r="0.38"/><circle cx="221.0" cy="45.8" r="0.38"/><circle cx="211.0" cy="46.0" r="0.38"/><circle cx="197.2" cy="47.3" r="0.38"/><circle cx="191.7" cy="44.9" r="0.38"/><circle cx="188.1" cy="45.1" r="0.38"/><circle cx="208.6" cy="47.6" r="0.38"/><circle cx="207.1" cy="44.5" r="0.38"/><circle cx="200.7" cy="48.0" r="0.38"/><circle cx="190.3" cy="46.5" r="0.38"/><circle cx="207.0" cy="46.6" r="0.38"/><circle cx="204.9" cy="46.8" r="0.38"/><circle cx="213.4" cy="46.6" r="0.38"/><circle cx="234.8" cy="46.3" r="0.38"/><circle cx="194.5" cy="44.3" r="0.38"/><circle cx="237.1" cy="46.0" r="0.38"/><circle cx="197.3" cy="47.8" r="0.38"/><circle cx="217.7" cy="46.9" r="0.38"/><circle cx="233.7" cy="45.1" r="0.38"/><circle cx="205.9" cy="47.5" r="0.38"/><circle cx="194.2" cy="47.1" r="0.38"/><circle cx="192.2" cy="46.8" r="0.38"/><circle cx="224.2" cy="47.8" r="0.38"/><circle cx="231.7" cy="46.0" r="0.38"/><circle cx="197.5" cy="44.6" r="0.38"/><circle cx="215.0" cy="46.0" r="0.38"/><circle cx="190.8" cy="47.6" r="0.38"/><circle cx="213.9" cy="46.8" r="0.38"/><circle cx="198.7" cy="45.0" r="0.38"/><circle cx="187.6" cy="45.4" r="0.38"/><circle cx="201.1" cy="45.7" r="0.38"/><circle cx="207.0" cy="47.3" r="0.38"/><circle cx="234.2" cy="44.7" r="0.38"/><circle cx="208.0" cy="44.7" r="0.38"/><circle cx="222.1" cy="47.9" r="0.38"/><circle cx="197.7" cy="47.1" r="0.38"/><circle cx="202.9" cy="44.1" r="0.38"/><circle cx="227.5" cy="45.4" r="0.38"/><circle cx="196.0" cy="45.7" r="0.38"/><circle cx="199.3" cy="45.6" r="0.38"/><circle cx="210.6" cy="45.7" r="0.38"/><circle cx="218.2" cy="45.2" r="0.38"/></g>
<g filter="url(#bl3)">
<path d="M171.4,52 C171.4,47.5 173.5,44.6 177.5,44.5 C181.5,44.5 184,45.5 185.5,47.5 L187.5,63 L189.5,79.5 C200,80.2 215,80.8 232,81.5 C243,82.2 249,83.5 251.5,85.3 C247,87.2 233,88.2 214,89 C200,89.6 190,90.6 182,90.9 C176,91 173,90 171.5,88.3 C170,86.5 169,85.5 164.3,84.4 C168,83.8 169.5,83 170.3,81.5 C171.2,79 171.4,70 171.4,52 Z" fill="#525252"/>
<path d="M185,46.3 C200,45.6 222,46.3 235,49.5 C242,52 243,59.5 236,62.3 C222,63.8 203,63.8 185,63.3 Z" fill="#6c6c6c"/>
<path d="M185,46.3 C200,45.6 222,46.3 235,49.5 C238,50.7 239.5,52 240,53.5 C225,52.5 205,52.8 185,53.3 Z" fill="#505050"/>
<path d="M209.5,69 C210,66.5 214,65.8 217,67 C219.5,70 219.5,77 217,80.5 C214,82 210.5,81 209.5,78 Z" fill="#5a5a5a"/>
</g>
<path d="M190,55.6 C205,55 222,55.3 236,56.4" stroke="#c4c4c4" stroke-width="1.6" fill="none" filter="url(#bl3)"/>
<path d="M194,84.8 L234,84.8" stroke="#d8d8d8" stroke-width="0.8" fill="none" stroke-dasharray="2 0.8"/>
<g fill="none" stroke="#444" stroke-width="0.42">
<path d="M187.5,72.0 C187.5,62.5 196.7,67.7 200.2,70.3 C204.8,64.3 211.1,66.8 210.5,72.9 C209.3,79.7 194.4,80.6 187.5,72.0 Z"/>
<path d="M189.5,72.2 C189.5,64.1 197.3,68.5 200.3,70.7 C204.2,65.6 209.6,67.8 209.1,72.9 C208.1,78.8 195.4,79.5 189.5,72.2 Z"/>
<path d="M191.5,72.4 C191.5,65.7 198.0,69.4 200.4,71.2 C203.7,66.9 208.1,68.7 207.7,73.0 C206.9,77.9 196.4,78.5 191.5,72.4 Z"/>
<path d="M193.5,72.6 C193.5,67.3 198.6,70.2 200.5,71.6 C203.1,68.2 206.6,69.7 206.3,73.1 C205.7,77.0 197.3,77.4 193.5,72.6 Z"/>
<path d="M195.5,72.8 C195.5,68.8 199.3,71.0 200.7,72.1 C202.5,69.6 205.1,70.6 204.9,73.2 C204.4,76.0 198.3,76.4 195.5,72.8 Z"/>
<path d="M197.5,73.0 C197.5,70.4 199.9,71.8 200.8,72.5 C202.0,70.9 203.7,71.6 203.5,73.2 C203.2,75.1 199.3,75.3 197.5,73.0 Z"/>
</g>
<g fill="none" stroke="#777" stroke-width="0.4">
<path d="M210.5,68.0 C213.0,66.5 218.0,70.0 217.0,75.0 C216.0,80.0 211.0,80.0 210.5,75.0"/>
<path d="M211.1,68.5 C213.0,67.3 217.5,70.0 216.5,75.0 C215.6,79.4 211.5,79.4 211.1,75.0"/>
<path d="M211.7,69.0 C213.0,68.1 217.0,70.0 216.0,75.0 C215.2,78.8 212.0,78.8 211.7,75.0"/>
<path d="M212.3,69.5 C213.0,68.9 216.5,70.0 215.5,75.0 C214.8,78.2 212.5,78.2 212.3,75.0"/>
</g>
<rect x="156.5" y="31.8" width="96.30000000000001" height="74.4" fill="none" stroke="#3a3a3a" stroke-width="0.8"/>
<rect x="156.5" y="43.2" width="28.30000000000001" height="24.2" fill="none" stroke="#3a3a3a" stroke-width="0.7"/>
<rect x="189.6" y="42.9" width="59.20000000000002" height="21.4" fill="none" stroke="#3a3a3a" stroke-width="0.7"/>
<text x="160.9" y="42.2" font-size="5.4" text-anchor="start" fill="#222" textLength="14.8" lengthAdjust="spacingAndGlyphs">1 HPC</text>
<text x="235.0" y="41.8" font-size="8.0" font-weight="bold" text-anchor="end" fill="#000">5.6±0.4%</text>
<text x="236.20000000000002" y="41.8" font-size="5.4" text-anchor="start" fill="#222" textLength="10.2" lengthAdjust="spacingAndGlyphs">HSC</text>
<line x1="154.9" y1="33.3" x2="156.5" y2="33.3" stroke="#555" stroke-width="0.45"/>
<line x1="154.9" y1="36.05" x2="156.5" y2="36.05" stroke="#555" stroke-width="0.45"/>
<line x1="154.9" y1="38.8" x2="156.5" y2="38.8" stroke="#555" stroke-width="0.45"/>
<line x1="154.9" y1="41.55" x2="156.5" y2="41.55" stroke="#555" stroke-width="0.45"/>
<line x1="154.9" y1="44.3" x2="156.5" y2="44.3" stroke="#555" stroke-width="0.45"/>
<line x1="154.9" y1="47.05" x2="156.5" y2="47.05" stroke="#555" stroke-width="0.45"/>
<line x1="154.9" y1="49.8" x2="156.5" y2="49.8" stroke="#555" stroke-width="0.45"/>
<line x1="154.9" y1="52.55" x2="156.5" y2="52.55" stroke="#555" stroke-width="0.45"/>
<line x1="154.9" y1="55.3" x2="156.5" y2="55.3" stroke="#555" stroke-width="0.45"/>
<line x1="154.9" y1="58.05" x2="156.5" y2="58.05" stroke="#555" stroke-width="0.45"/>
<line x1="154.9" y1="60.8" x2="156.5" y2="60.8" stroke="#555" stroke-width="0.45"/>
<line x1="154.9" y1="63.55" x2="156.5" y2="63.55" stroke="#555" stroke-width="0.45"/>
<line x1="154.9" y1="66.3" x2="156.5" y2="66.3" stroke="#555" stroke-width="0.45"/>
<line x1="154.9" y1="69.05" x2="156.5" y2="69.05" stroke="#555" stroke-width="0.45"/>
<line x1="154.9" y1="71.8" x2="156.5" y2="71.8" stroke="#555" stroke-width="0.45"/>
<line x1="154.9" y1="74.55" x2="156.5" y2="74.55" stroke="#555" stroke-width="0.45"/>
<line x1="154.9" y1="77.3" x2="156.5" y2="77.3" stroke="#555" stroke-width="0.45"/>
<line x1="154.9" y1="80.05" x2="156.5" y2="80.05" stroke="#555" stroke-width="0.45"/>
<line x1="154.9" y1="82.8" x2="156.5" y2="82.8" stroke="#555" stroke-width="0.45"/>
<line x1="154.9" y1="85.55" x2="156.5" y2="85.55" stroke="#555" stroke-width="0.45"/>
<line x1="154.9" y1="88.3" x2="156.5" y2="88.3" stroke="#555" stroke-width="0.45"/>
<line x1="154.9" y1="91.05" x2="156.5" y2="91.05" stroke="#555" stroke-width="0.45"/>
<line x1="154.9" y1="93.8" x2="156.5" y2="93.8" stroke="#555" stroke-width="0.45"/>
<line x1="154.9" y1="96.55" x2="156.5" y2="96.55" stroke="#555" stroke-width="0.45"/>
<line x1="154.9" y1="99.3" x2="156.5" y2="99.3" stroke="#555" stroke-width="0.45"/>
<line x1="154.9" y1="102.05" x2="156.5" y2="102.05" stroke="#555" stroke-width="0.45"/>
<line x1="154.9" y1="104.8" x2="156.5" y2="104.8" stroke="#555" stroke-width="0.45"/>
<line x1="153.2" y1="39.3" x2="156.5" y2="39.3" stroke="#222" stroke-width="0.8"/>
<line x1="153.2" y1="56.8" x2="156.5" y2="56.8" stroke="#222" stroke-width="0.8"/>
<line x1="153.2" y1="77.5" x2="156.5" y2="77.5" stroke="#222" stroke-width="0.8"/>
<rect x="154.6" y="78" width="1.9" height="14.8" fill="#1e1e1e"/>
<line x1="157.5" y1="106.2" x2="157.5" y2="108.10000000000001" stroke="#555" stroke-width="0.45"/>
<line x1="159.85" y1="106.2" x2="159.85" y2="108.10000000000001" stroke="#555" stroke-width="0.45"/>
<line x1="162.2" y1="106.2" x2="162.2" y2="108.10000000000001" stroke="#555" stroke-width="0.45"/>
<line x1="164.55" y1="106.2" x2="164.55" y2="108.10000000000001" stroke="#555" stroke-width="0.45"/>
<line x1="166.9" y1="106.2" x2="166.9" y2="108.10000000000001" stroke="#555" stroke-width="0.45"/>
<line x1="169.25" y1="106.2" x2="169.25" y2="108.10000000000001" stroke="#555" stroke-width="0.45"/>
<line x1="171.6" y1="106.2" x2="171.6" y2="108.10000000000001" stroke="#555" stroke-width="0.45"/>
<line x1="173.95" y1="106.2" x2="173.95" y2="108.10000000000001" stroke="#555" stroke-width="0.45"/>
<line x1="176.3" y1="106.2" x2="176.3" y2="108.10000000000001" stroke="#555" stroke-width="0.45"/>
<line x1="178.65" y1="106.2" x2="178.65" y2="108.10000000000001" stroke="#555" stroke-width="0.45"/>
<line x1="181.0" y1="106.2" x2="181.0" y2="108.10000000000001" stroke="#555" stroke-width="0.45"/>
<line x1="183.35" y1="106.2" x2="183.35" y2="108.10000000000001" stroke="#555" stroke-width="0.45"/>
<line x1="185.7" y1="106.2" x2="185.7" y2="108.10000000000001" stroke="#555" stroke-width="0.45"/>
<line x1="188.05" y1="106.2" x2="188.05" y2="108.10000000000001" stroke="#555" stroke-width="0.45"/>
<line x1="190.4" y1="106.2" x2="190.4" y2="108.10000000000001" stroke="#555" stroke-width="0.45"/>
<line x1="192.75" y1="106.2" x2="192.75" y2="108.10000000000001" stroke="#555" stroke-width="0.45"/>
<line x1="195.1" y1="106.2" x2="195.1" y2="108.10000000000001" stroke="#555" stroke-width="0.45"/>
<line x1="197.45" y1="106.2" x2="197.45" y2="108.10000000000001" stroke="#555" stroke-width="0.45"/>
<line x1="199.8" y1="106.2" x2="199.8" y2="108.10000000000001" stroke="#555" stroke-width="0.45"/>
<line x1="202.15" y1="106.2" x2="202.15" y2="108.10000000000001" stroke="#555" stroke-width="0.45"/>
<line x1="204.5" y1="106.2" x2="204.5" y2="108.10000000000001" stroke="#555" stroke-width="0.45"/>
<line x1="206.85" y1="106.2" x2="206.85" y2="108.10000000000001" stroke="#555" stroke-width="0.45"/>
<line x1="209.2" y1="106.2" x2="209.2" y2="108.10000000000001" stroke="#555" stroke-width="0.45"/>
<line x1="211.55" y1="106.2" x2="211.55" y2="108.10000000000001" stroke="#555" stroke-width="0.45"/>
<line x1="213.9" y1="106.2" x2="213.9" y2="108.10000000000001" stroke="#555" stroke-width="0.45"/>
<line x1="216.25" y1="106.2" x2="216.25" y2="108.10000000000001" stroke="#555" stroke-width="0.45"/>
<line x1="218.6" y1="106.2" x2="218.6" y2="108.10000000000001" stroke="#555" stroke-width="0.45"/>
<line x1="220.95" y1="106.2" x2="220.95" y2="108.10000000000001" stroke="#555" stroke-width="0.45"/>
<line x1="223.3" y1="106.2" x2="223.3" y2="108.10000000000001" stroke="#555" stroke-width="0.45"/>
<line x1="225.65" y1="106.2" x2="225.65" y2="108.10000000000001" stroke="#555" stroke-width="0.45"/>
<line x1="228.0" y1="106.2" x2="228.0" y2="108.10000000000001" stroke="#555" stroke-width="0.45"/>
<line x1="230.35000000000002" y1="106.2" x2="230.35000000000002" y2="108.10000000000001" stroke="#555" stroke-width="0.45"/>
<line x1="232.7" y1="106.2" x2="232.7" y2="108.10000000000001" stroke="#555" stroke-width="0.45"/>
<line x1="235.05" y1="106.2" x2="235.05" y2="108.10000000000001" stroke="#555" stroke-width="0.45"/>
<line x1="237.4" y1="106.2" x2="237.4" y2="108.10000000000001" stroke="#555" stroke-width="0.45"/>
<line x1="239.75" y1="106.2" x2="239.75" y2="108.10000000000001" stroke="#555" stroke-width="0.45"/>
<line x1="242.10000000000002" y1="106.2" x2="242.10000000000002" y2="108.10000000000001" stroke="#555" stroke-width="0.45"/>
<line x1="244.45" y1="106.2" x2="244.45" y2="108.10000000000001" stroke="#555" stroke-width="0.45"/>
<line x1="246.8" y1="106.2" x2="246.8" y2="108.10000000000001" stroke="#555" stroke-width="0.45"/>
<line x1="249.15" y1="106.2" x2="249.15" y2="108.10000000000001" stroke="#555" stroke-width="0.45"/>
<line x1="176.5" y1="106.2" x2="176.5" y2="109.5" stroke="#222" stroke-width="0.8"/>
<line x1="196.0" y1="106.2" x2="196.0" y2="109.5" stroke="#222" stroke-width="0.8"/>
<line x1="220.6" y1="106.2" x2="220.6" y2="109.5" stroke="#222" stroke-width="0.8"/>
<line x1="242.5" y1="106.2" x2="242.5" y2="109.5" stroke="#222" stroke-width="0.8"/>
<rect x="156.5" y="106.2" width="14" height="1.3" fill="#444"/>
<text x="149.5" y="38.5" font-size="4.9" fill="#222" text-anchor="middle" transform="rotate(-90 149.5 38.5)">10<tspan font-size="3.3" dy="-2">5</tspan></text>
<text x="149.5" y="56.2" font-size="4.9" fill="#222" text-anchor="middle" transform="rotate(-90 149.5 56.2)">10<tspan font-size="3.3" dy="-2">4</tspan></text>
<text x="149.5" y="76.2" font-size="4.9" fill="#222" text-anchor="middle" transform="rotate(-90 149.5 76.2)">10<tspan font-size="3.3" dy="-2">3</tspan></text>
<text x="149.5" y="86" font-size="4.9" fill="#222" text-anchor="middle" transform="rotate(-90 149.5 86)">0</text>
<text x="149.5" y="92.5" font-size="4.9" fill="#222" text-anchor="middle" transform="rotate(-90 149.5 92.5)">-10<tspan font-size="3.3" dy="-2">3</tspan></text>
<text x="149.5" y="105.5" font-size="4.9" fill="#222" text-anchor="middle" transform="rotate(-90 149.5 105.5)">-4,018</text>
<text x="143.3" y="68" font-size="6.0" text-anchor="middle" fill="#1a1a1a" transform="rotate(-90 143.3 68)">APC-A</text>
<text x="156.0" y="118.4" font-size="4.9" fill="#222" text-anchor="middle">-1,075</text>
<text x="176.5" y="115.4" font-size="4.9" fill="#222" text-anchor="middle">0</text>
<text x="196.0" y="116.2" font-size="4.9" fill="#222" text-anchor="middle">10<tspan font-size="3.3" dy="-2">3</tspan></text>
<text x="220.6" y="116.2" font-size="4.9" fill="#222" text-anchor="middle">10<tspan font-size="3.3" dy="-2">4</tspan></text>
<text x="242.5" y="116.2" font-size="4.9" fill="#222" text-anchor="middle">10<tspan font-size="3.3" dy="-2">5</tspan></text>
<text x="204.0" y="122.6" font-size="6.2" text-anchor="middle" fill="#1a1a1a">PE-A</text>
<text x="189.3" y="31.0" font-size="6.4" text-anchor="start" fill="#2a2a2a" textLength="10.4" lengthAdjust="spacingAndGlyphs">Lin-</text>
<text x="202.2" y="134.8" font-size="7.9" font-weight="bold" text-anchor="middle" fill="#000">WT</text>
<g fill="#555"><circle cx="356.8" cy="85.9" r="0.38"/><circle cx="351.0" cy="65.6" r="0.38"/><circle cx="341.1" cy="82.7" r="0.38"/><circle cx="355.8" cy="61.9" r="0.38"/><circle cx="347.6" cy="63.1" r="0.38"/><circle cx="336.1" cy="79.0" r="0.38"/><circle cx="345.9" cy="83.4" r="0.38"/><circle cx="346.1" cy="72.9" r="0.38"/><circle cx="360.0" cy="84.2" r="0.38"/><circle cx="347.4" cy="74.3" r="0.38"/><circle cx="353.4" cy="67.7" r="0.38"/><circle cx="349.0" cy="65.4" r="0.38"/><circle cx="362.4" cy="72.1" r="0.38"/><circle cx="351.8" cy="84.0" r="0.38"/><circle cx="340.8" cy="84.2" r="0.38"/><circle cx="359.3" cy="72.9" r="0.38"/><circle cx="348.9" cy="62.5" r="0.38"/><circle cx="352.0" cy="68.5" r="0.38"/><circle cx="347.6" cy="79.8" r="0.38"/><circle cx="351.5" cy="81.9" r="0.38"/><circle cx="344.0" cy="78.8" r="0.38"/><circle cx="347.1" cy="78.0" r="0.38"/><circle cx="351.3" cy="79.4" r="0.38"/><circle cx="354.6" cy="78.6" r="0.38"/><circle cx="350.1" cy="78.2" r="0.38"/><circle cx="358.0" cy="77.6" r="0.38"/><circle cx="351.1" cy="65.0" r="0.38"/><circle cx="340.3" cy="67.8" r="0.38"/><circle cx="348.2" cy="77.0" r="0.38"/><circle cx="343.6" cy="86.0" r="0.38"/><circle cx="349.0" cy="66.6" r="0.38"/><circle cx="337.2" cy="77.0" r="0.38"/><circle cx="353.4" cy="68.5" r="0.38"/><circle cx="362.0" cy="77.9" r="0.38"/><circle cx="340.5" cy="76.5" r="0.38"/><circle cx="347.2" cy="85.7" r="0.38"/><circle cx="339.5" cy="75.5" r="0.38"/><circle cx="348.0" cy="71.4" r="0.38"/><circle cx="351.7" cy="66.9" r="0.38"/><circle cx="339.9" cy="77.3" r="0.38"/><circle cx="336.4" cy="74.5" r="0.38"/><circle cx="345.4" cy="76.8" r="0.38"/><circle cx="356.6" cy="76.7" r="0.38"/><circle cx="339.8" cy="81.6" r="0.38"/><circle cx="353.1" cy="68.4" r="0.38"/><circle cx="353.0" cy="72.4" r="0.38"/><circle cx="359.8" cy="76.3" r="0.38"/><circle cx="364.4" cy="74.9" r="0.38"/><circle cx="360.9" cy="71.3" r="0.38"/><circle cx="358.7" cy="77.6" r="0.38"/><circle cx="358.2" cy="71.4" r="0.38"/><circle cx="351.3" cy="75.0" r="0.38"/><circle cx="345.4" cy="86.5" r="0.38"/><circle cx="355.5" cy="70.8" r="0.38"/><circle cx="348.1" cy="60.2" r="0.38"/><circle cx="340.3" cy="71.4" r="0.38"/><circle cx="340.8" cy="77.6" r="0.38"/><circle cx="344.4" cy="75.1" r="0.38"/><circle cx="360.0" cy="74.0" r="0.38"/><circle cx="343.5" cy="69.5" r="0.38"/><circle cx="338.7" cy="78.7" r="0.38"/><circle cx="340.0" cy="76.4" r="0.38"/><circle cx="364.1" cy="72.9" r="0.38"/><circle cx="357.8" cy="64.9" r="0.38"/><circle cx="340.5" cy="77.4" r="0.38"/><circle cx="343.5" cy="68.3" r="0.38"/><circle cx="347.2" cy="70.0" r="0.38"/><circle cx="349.9" cy="84.4" r="0.38"/><circle cx="355.0" cy="75.8" r="0.38"/><circle cx="348.7" cy="61.0" r="0.38"/><circle cx="351.4" cy="81.6" r="0.38"/><circle cx="349.7" cy="72.4" r="0.38"/><circle cx="348.3" cy="85.3" r="0.38"/><circle cx="344.1" cy="66.6" r="0.38"/><circle cx="345.2" cy="65.3" r="0.38"/><circle cx="351.1" cy="87.3" r="0.38"/><circle cx="359.3" cy="63.1" r="0.38"/><circle cx="336.8" cy="65.1" r="0.38"/><circle cx="346.0" cy="72.5" r="0.38"/><circle cx="359.4" cy="80.3" r="0.38"/><circle cx="351.7" cy="87.0" r="0.38"/><circle cx="348.9" cy="74.5" r="0.38"/><circle cx="351.6" cy="75.7" r="0.38"/><circle cx="345.8" cy="71.9" r="0.38"/><circle cx="346.0" cy="62.0" r="0.38"/><circle cx="354.5" cy="65.6" r="0.38"/><circle cx="345.2" cy="69.6" r="0.38"/><circle cx="349.5" cy="67.7" r="0.38"/><circle cx="360.3" cy="75.8" r="0.38"/><circle cx="359.3" cy="79.7" r="0.38"/><circle cx="362.0" cy="69.9" r="0.38"/><circle cx="357.6" cy="66.9" r="0.38"/><circle cx="360.4" cy="75.3" r="0.38"/><circle cx="343.4" cy="71.3" r="0.38"/><circle cx="362.5" cy="80.5" r="0.38"/><circle cx="350.8" cy="71.5" r="0.38"/><circle cx="367.0" cy="76.5" r="0.38"/><circle cx="362.1" cy="71.0" r="0.38"/><circle cx="351.4" cy="85.3" r="0.38"/><circle cx="342.9" cy="66.6" r="0.38"/><circle cx="354.0" cy="69.1" r="0.38"/><circle cx="343.7" cy="68.9" r="0.38"/><circle cx="355.8" cy="70.4" r="0.38"/><circle cx="362.6" cy="73.2" r="0.38"/><circle cx="355.9" cy="82.8" r="0.38"/><circle cx="341.9" cy="70.1" r="0.38"/><circle cx="351.2" cy="79.8" r="0.38"/><circle cx="358.2" cy="78.8" r="0.38"/><circle cx="357.7" cy="74.2" r="0.38"/><circle cx="353.4" cy="70.2" r="0.38"/><circle cx="353.7" cy="80.2" r="0.38"/><circle cx="349.3" cy="71.2" r="0.38"/><circle cx="355.3" cy="63.7" r="0.38"/><circle cx="355.0" cy="78.0" r="0.38"/><circle cx="351.3" cy="61.1" r="0.38"/><circle cx="348.0" cy="72.2" r="0.38"/><circle cx="353.4" cy="69.6" r="0.38"/><circle cx="355.1" cy="69.6" r="0.38"/><circle cx="348.2" cy="67.0" r="0.38"/><circle cx="343.6" cy="78.7" r="0.38"/><circle cx="350.7" cy="69.9" r="0.38"/><circle cx="350.2" cy="72.6" r="0.38"/><circle cx="360.9" cy="71.5" r="0.38"/><circle cx="344.7" cy="72.6" r="0.38"/><circle cx="357.3" cy="61.8" r="0.38"/><circle cx="355.2" cy="62.2" r="0.38"/><circle cx="341.9" cy="71.3" r="0.38"/><circle cx="356.6" cy="69.6" r="0.38"/><circle cx="351.3" cy="76.0" r="0.38"/><circle cx="343.7" cy="75.6" r="0.38"/><circle cx="353.5" cy="80.7" r="0.38"/><circle cx="351.4" cy="79.9" r="0.38"/><circle cx="360.7" cy="71.0" r="0.38"/><circle cx="355.5" cy="82.6" r="0.38"/><circle cx="347.9" cy="74.4" r="0.38"/><circle cx="345.6" cy="75.1" r="0.38"/><circle cx="340.4" cy="68.9" r="0.38"/><circle cx="354.1" cy="64.4" r="0.38"/><circle cx="348.4" cy="77.5" r="0.38"/><circle cx="351.8" cy="85.0" r="0.38"/><circle cx="355.6" cy="77.0" r="0.38"/><circle cx="350.7" cy="78.1" r="0.38"/><circle cx="344.3" cy="67.3" r="0.38"/><circle cx="350.9" cy="62.8" r="0.38"/><circle cx="338.8" cy="68.9" r="0.38"/><circle cx="349.6" cy="77.3" r="0.38"/><circle cx="358.0" cy="71.9" r="0.38"/><circle cx="351.8" cy="74.6" r="0.38"/><circle cx="353.8" cy="78.5" r="0.38"/><circle cx="339.5" cy="66.0" r="0.38"/><circle cx="360.6" cy="68.4" r="0.38"/><circle cx="356.4" cy="80.4" r="0.38"/><circle cx="349.1" cy="68.2" r="0.38"/><circle cx="338.1" cy="80.2" r="0.38"/><circle cx="364.7" cy="73.7" r="0.38"/><circle cx="349.3" cy="65.0" r="0.38"/><circle cx="354.1" cy="67.0" r="0.38"/><circle cx="339.7" cy="74.7" r="0.38"/><circle cx="349.7" cy="64.5" r="0.38"/><circle cx="352.9" cy="62.3" r="0.38"/><circle cx="345.1" cy="81.1" r="0.38"/><circle cx="351.1" cy="81.5" r="0.38"/><circle cx="340.3" cy="63.2" r="0.38"/><circle cx="350.3" cy="77.2" r="0.38"/><circle cx="341.2" cy="79.7" r="0.38"/><circle cx="354.6" cy="65.8" r="0.38"/><circle cx="337.7" cy="80.3" r="0.38"/><circle cx="356.5" cy="73.1" r="0.38"/><circle cx="362.8" cy="78.9" r="0.38"/><circle cx="359.4" cy="73.7" r="0.38"/><circle cx="355.7" cy="82.7" r="0.38"/><circle cx="360.7" cy="84.0" r="0.38"/><circle cx="353.1" cy="72.8" r="0.38"/><circle cx="348.3" cy="78.0" r="0.38"/><circle cx="354.6" cy="81.0" r="0.38"/><circle cx="349.9" cy="67.5" r="0.38"/><circle cx="347.9" cy="76.5" r="0.38"/><circle cx="350.2" cy="79.3" r="0.38"/><circle cx="344.3" cy="84.1" r="0.38"/><circle cx="339.4" cy="72.2" r="0.38"/><circle cx="361.7" cy="72.8" r="0.38"/><circle cx="339.2" cy="69.4" r="0.38"/><circle cx="345.6" cy="80.6" r="0.38"/><circle cx="358.1" cy="64.7" r="0.38"/><circle cx="350.4" cy="70.7" r="0.38"/><circle cx="350.6" cy="81.8" r="0.38"/><circle cx="349.3" cy="78.5" r="0.38"/><circle cx="342.1" cy="68.2" r="0.38"/><circle cx="357.8" cy="81.9" r="0.38"/><circle cx="353.1" cy="84.0" r="0.38"/><circle cx="339.0" cy="76.8" r="0.38"/><circle cx="340.6" cy="66.9" r="0.38"/><circle cx="340.8" cy="71.2" r="0.38"/><circle cx="338.6" cy="62.7" r="0.38"/><circle cx="351.3" cy="82.9" r="0.38"/><circle cx="341.5" cy="71.2" r="0.38"/><circle cx="343.0" cy="78.6" r="0.38"/><circle cx="339.0" cy="80.6" r="0.38"/><circle cx="345.9" cy="79.0" r="0.38"/><circle cx="365.3" cy="77.7" r="0.38"/><circle cx="352.4" cy="72.6" r="0.38"/><circle cx="340.8" cy="66.6" r="0.38"/><circle cx="338.3" cy="78.9" r="0.38"/><circle cx="347.1" cy="87.3" r="0.38"/><circle cx="346.5" cy="79.3" r="0.38"/><circle cx="352.1" cy="68.7" r="0.38"/><circle cx="363.1" cy="75.7" r="0.38"/><circle cx="357.0" cy="77.1" r="0.38"/><circle cx="355.3" cy="76.3" r="0.38"/><circle cx="350.3" cy="80.8" r="0.38"/><circle cx="345.1" cy="78.4" r="0.38"/><circle cx="350.6" cy="63.0" r="0.38"/><circle cx="341.7" cy="72.7" r="0.38"/><circle cx="359.3" cy="72.2" r="0.38"/><circle cx="348.9" cy="65.9" r="0.38"/><circle cx="350.0" cy="77.0" r="0.38"/><circle cx="357.1" cy="65.6" r="0.38"/><circle cx="354.6" cy="73.6" r="0.38"/><circle cx="360.9" cy="67.5" r="0.38"/><circle cx="337.5" cy="73.5" r="0.38"/><circle cx="341.4" cy="66.4" r="0.38"/><circle cx="341.6" cy="80.3" r="0.38"/><circle cx="354.3" cy="66.8" r="0.38"/><circle cx="344.3" cy="72.2" r="0.38"/><circle cx="359.8" cy="76.4" r="0.38"/><circle cx="348.6" cy="67.8" r="0.38"/><circle cx="342.6" cy="86.6" r="0.38"/><circle cx="354.9" cy="79.9" r="0.38"/><circle cx="350.9" cy="74.9" r="0.38"/><circle cx="359.7" cy="68.7" r="0.38"/><circle cx="352.7" cy="84.0" r="0.38"/><circle cx="353.9" cy="76.8" r="0.38"/><circle cx="346.0" cy="66.7" r="0.38"/><circle cx="355.2" cy="78.0" r="0.38"/><circle cx="350.3" cy="75.4" r="0.38"/><circle cx="352.0" cy="67.1" r="0.38"/><circle cx="358.2" cy="77.4" r="0.38"/><circle cx="350.1" cy="66.0" r="0.38"/><circle cx="359.1" cy="72.8" r="0.38"/><circle cx="346.6" cy="79.2" r="0.38"/><circle cx="355.7" cy="77.0" r="0.38"/><circle cx="343.3" cy="73.3" r="0.38"/><circle cx="359.1" cy="81.7" r="0.38"/><circle cx="356.9" cy="74.7" r="0.38"/><circle cx="361.7" cy="83.7" r="0.38"/><circle cx="353.0" cy="78.7" r="0.38"/><circle cx="351.8" cy="73.3" r="0.38"/><circle cx="346.2" cy="73.5" r="0.38"/><circle cx="345.6" cy="83.2" r="0.38"/><circle cx="351.3" cy="68.2" r="0.38"/><circle cx="345.4" cy="77.5" r="0.38"/><circle cx="339.8" cy="74.2" r="0.38"/><circle cx="340.6" cy="82.3" r="0.38"/><circle cx="350.1" cy="81.7" r="0.38"/><circle cx="338.6" cy="71.2" r="0.38"/><circle cx="351.2" cy="67.5" r="0.38"/><circle cx="343.8" cy="71.1" r="0.38"/><circle cx="352.8" cy="78.9" r="0.38"/><circle cx="352.7" cy="69.4" r="0.38"/><circle cx="336.3" cy="78.9" r="0.38"/><circle cx="343.5" cy="67.7" r="0.38"/><circle cx="354.5" cy="67.0" r="0.38"/><circle cx="362.8" cy="76.4" r="0.38"/><circle cx="351.4" cy="85.5" r="0.38"/><circle cx="365.1" cy="79.1" r="0.38"/><circle cx="347.1" cy="68.7" r="0.38"/><circle cx="343.2" cy="74.0" r="0.38"/><circle cx="355.7" cy="72.8" r="0.38"/><circle cx="349.7" cy="64.0" r="0.38"/><circle cx="344.9" cy="82.2" r="0.38"/><circle cx="337.5" cy="72.2" r="0.38"/><circle cx="356.5" cy="69.1" r="0.38"/><circle cx="345.7" cy="76.8" r="0.38"/><circle cx="351.6" cy="79.1" r="0.38"/><circle cx="361.3" cy="80.1" r="0.38"/><circle cx="349.3" cy="62.9" r="0.38"/><circle cx="358.0" cy="68.2" r="0.38"/><circle cx="347.5" cy="71.5" r="0.38"/><circle cx="365.0" cy="79.7" r="0.38"/><circle cx="355.5" cy="80.0" r="0.38"/><circle cx="359.6" cy="68.0" r="0.38"/><circle cx="351.1" cy="75.4" r="0.38"/><circle cx="351.9" cy="71.1" r="0.38"/><circle cx="347.9" cy="81.6" r="0.38"/><circle cx="360.0" cy="75.0" r="0.38"/><circle cx="354.4" cy="61.6" r="0.38"/><circle cx="359.4" cy="68.8" r="0.38"/><circle cx="342.9" cy="78.7" r="0.38"/><circle cx="343.3" cy="80.7" r="0.38"/><circle cx="354.6" cy="67.4" r="0.38"/><circle cx="353.5" cy="76.8" r="0.38"/><circle cx="355.3" cy="73.5" r="0.38"/><circle cx="356.1" cy="70.6" r="0.38"/><circle cx="357.8" cy="70.0" r="0.38"/><circle cx="341.4" cy="69.1" r="0.38"/><circle cx="357.0" cy="73.2" r="0.38"/><circle cx="346.4" cy="68.9" r="0.38"/><circle cx="346.9" cy="70.1" r="0.38"/><circle cx="352.0" cy="81.4" r="0.38"/><circle cx="365.0" cy="76.4" r="0.38"/><circle cx="344.2" cy="73.3" r="0.38"/><circle cx="353.9" cy="78.9" r="0.38"/><circle cx="354.6" cy="74.3" r="0.38"/><circle cx="354.4" cy="77.8" r="0.38"/><circle cx="363.7" cy="83.9" r="0.38"/><circle cx="358.4" cy="69.7" r="0.38"/><circle cx="360.5" cy="80.0" r="0.38"/><circle cx="359.4" cy="70.0" r="0.38"/><circle cx="349.7" cy="85.7" r="0.38"/><circle cx="341.3" cy="65.7" r="0.38"/><circle cx="341.3" cy="79.1" r="0.38"/><circle cx="345.3" cy="65.9" r="0.38"/><circle cx="339.7" cy="71.6" r="0.38"/><circle cx="349.4" cy="69.5" r="0.38"/><circle cx="350.7" cy="73.4" r="0.38"/><circle cx="353.7" cy="76.5" r="0.38"/><circle cx="362.5" cy="75.3" r="0.38"/><circle cx="339.2" cy="65.8" r="0.38"/><circle cx="340.6" cy="81.1" r="0.38"/><circle cx="341.3" cy="77.2" r="0.38"/><circle cx="359.2" cy="80.6" r="0.38"/><circle cx="349.5" cy="69.8" r="0.38"/><circle cx="354.5" cy="82.5" r="0.38"/><circle cx="344.0" cy="69.7" r="0.38"/><circle cx="344.9" cy="68.7" r="0.38"/><circle cx="341.1" cy="70.2" r="0.38"/><circle cx="355.1" cy="69.9" r="0.38"/><circle cx="351.9" cy="64.1" r="0.38"/><circle cx="362.8" cy="77.9" r="0.38"/><circle cx="343.6" cy="77.5" r="0.38"/><circle cx="345.5" cy="72.6" r="0.38"/><circle cx="353.2" cy="75.4" r="0.38"/><circle cx="340.7" cy="79.1" r="0.38"/><circle cx="351.7" cy="72.0" r="0.38"/><circle cx="340.6" cy="80.9" r="0.38"/><circle cx="342.6" cy="79.9" r="0.38"/><circle cx="358.6" cy="62.7" r="0.38"/><circle cx="361.0" cy="80.2" r="0.38"/><circle cx="339.4" cy="79.2" r="0.38"/><circle cx="361.0" cy="80.5" r="0.38"/><circle cx="351.7" cy="70.3" r="0.38"/><circle cx="348.2" cy="72.5" r="0.38"/><circle cx="344.0" cy="82.7" r="0.38"/><circle cx="353.4" cy="74.9" r="0.38"/><circle cx="344.5" cy="79.2" r="0.38"/><circle cx="347.8" cy="78.8" r="0.38"/><circle cx="345.5" cy="63.3" r="0.38"/><circle cx="351.9" cy="62.1" r="0.38"/><circle cx="348.7" cy="61.7" r="0.38"/><circle cx="349.6" cy="79.4" r="0.38"/><circle cx="358.5" cy="81.3" r="0.38"/><circle cx="337.2" cy="66.7" r="0.38"/><circle cx="350.1" cy="85.0" r="0.38"/><circle cx="359.2" cy="72.0" r="0.38"/><circle cx="352.4" cy="69.2" r="0.38"/><circle cx="352.2" cy="81.2" r="0.38"/><circle cx="340.7" cy="83.5" r="0.38"/><circle cx="345.7" cy="69.9" r="0.38"/><circle cx="354.3" cy="84.1" r="0.38"/><circle cx="352.0" cy="87.6" r="0.38"/><circle cx="355.5" cy="81.3" r="0.38"/><circle cx="350.6" cy="77.6" r="0.38"/><circle cx="342.3" cy="73.2" r="0.38"/><circle cx="358.7" cy="69.0" r="0.38"/><circle cx="361.0" cy="75.4" r="0.38"/><circle cx="357.9" cy="75.4" r="0.38"/><circle cx="347.0" cy="79.5" r="0.38"/><circle cx="359.9" cy="75.3" r="0.38"/><circle cx="339.7" cy="74.9" r="0.38"/><circle cx="351.1" cy="67.0" r="0.38"/><circle cx="349.9" cy="65.4" r="0.38"/><circle cx="346.6" cy="61.9" r="0.38"/><circle cx="343.9" cy="84.8" r="0.38"/><circle cx="342.3" cy="72.9" r="0.38"/><circle cx="358.0" cy="73.8" r="0.38"/><circle cx="344.7" cy="64.6" r="0.38"/><circle cx="350.6" cy="79.6" r="0.38"/><circle cx="349.0" cy="76.0" r="0.38"/><circle cx="357.8" cy="71.1" r="0.38"/><circle cx="347.1" cy="77.8" r="0.38"/><circle cx="351.5" cy="73.3" r="0.38"/><circle cx="340.4" cy="82.6" r="0.38"/><circle cx="353.0" cy="75.2" r="0.38"/><circle cx="351.1" cy="74.5" r="0.38"/><circle cx="354.6" cy="86.6" r="0.38"/><circle cx="348.2" cy="77.1" r="0.38"/><circle cx="349.7" cy="63.8" r="0.38"/><circle cx="345.4" cy="66.2" r="0.38"/><circle cx="354.9" cy="73.0" r="0.38"/><circle cx="346.7" cy="62.7" r="0.38"/><circle cx="362.3" cy="83.9" r="0.38"/><circle cx="345.8" cy="66.2" r="0.38"/><circle cx="350.5" cy="74.5" r="0.38"/><circle cx="345.2" cy="74.7" r="0.38"/><circle cx="354.1" cy="66.7" r="0.38"/><circle cx="348.4" cy="72.5" r="0.38"/><circle cx="358.8" cy="70.9" r="0.38"/><circle cx="360.7" cy="67.2" r="0.38"/><circle cx="356.5" cy="80.9" r="0.38"/><circle cx="349.0" cy="62.0" r="0.38"/><circle cx="367.0" cy="70.6" r="0.38"/><circle cx="346.9" cy="69.4" r="0.38"/><circle cx="341.3" cy="67.4" r="0.38"/><circle cx="364.0" cy="74.5" r="0.38"/><circle cx="345.6" cy="85.7" r="0.38"/><circle cx="359.7" cy="73.4" r="0.38"/><circle cx="351.7" cy="71.3" r="0.38"/><circle cx="353.5" cy="74.5" r="0.38"/><circle cx="346.9" cy="77.1" r="0.38"/><circle cx="342.1" cy="67.0" r="0.38"/><circle cx="345.6" cy="74.8" r="0.38"/><circle cx="346.7" cy="73.5" r="0.38"/><circle cx="345.3" cy="75.4" r="0.38"/><circle cx="366.0" cy="73.9" r="0.38"/><circle cx="364.1" cy="67.8" r="0.38"/><circle cx="351.3" cy="64.2" r="0.38"/><circle cx="361.6" cy="68.2" r="0.38"/><circle cx="357.8" cy="83.1" r="0.38"/><circle cx="354.8" cy="83.6" r="0.38"/><circle cx="343.3" cy="75.0" r="0.38"/></g>
<g fill="#444"><circle cx="353.3" cy="60.5" r="0.38"/><circle cx="359.1" cy="52.5" r="0.38"/><circle cx="358.1" cy="62.4" r="0.38"/><circle cx="354.3" cy="57.8" r="0.38"/><circle cx="351.0" cy="56.8" r="0.38"/><circle cx="356.6" cy="50.0" r="0.38"/><circle cx="360.5" cy="54.9" r="0.38"/><circle cx="358.5" cy="52.4" r="0.38"/><circle cx="360.2" cy="47.0" r="0.38"/><circle cx="356.5" cy="49.2" r="0.38"/><circle cx="349.7" cy="61.5" r="0.38"/><circle cx="351.3" cy="56.9" r="0.38"/><circle cx="351.8" cy="54.2" r="0.38"/><circle cx="352.9" cy="44.3" r="0.38"/><circle cx="356.5" cy="52.7" r="0.38"/><circle cx="360.9" cy="54.3" r="0.38"/><circle cx="356.8" cy="57.0" r="0.38"/><circle cx="356.8" cy="45.2" r="0.38"/><circle cx="356.8" cy="59.1" r="0.38"/><circle cx="352.9" cy="59.0" r="0.38"/><circle cx="352.7" cy="60.9" r="0.38"/><circle cx="349.1" cy="59.4" r="0.38"/><circle cx="355.0" cy="53.7" r="0.38"/><circle cx="351.5" cy="48.1" r="0.38"/><circle cx="346.6" cy="50.3" r="0.38"/><circle cx="355.6" cy="61.1" r="0.38"/><circle cx="355.1" cy="58.2" r="0.38"/><circle cx="357.2" cy="61.5" r="0.38"/><circle cx="356.8" cy="51.8" r="0.38"/><circle cx="349.5" cy="53.8" r="0.38"/><circle cx="357.9" cy="59.8" r="0.38"/><circle cx="349.3" cy="53.2" r="0.38"/><circle cx="347.7" cy="56.6" r="0.38"/><circle cx="345.1" cy="56.7" r="0.38"/><circle cx="352.6" cy="62.1" r="0.38"/><circle cx="356.0" cy="49.3" r="0.38"/><circle cx="351.4" cy="56.7" r="0.38"/><circle cx="356.8" cy="54.1" r="0.38"/><circle cx="352.9" cy="61.6" r="0.38"/><circle cx="361.8" cy="51.3" r="0.38"/><circle cx="354.4" cy="60.9" r="0.38"/><circle cx="346.4" cy="54.6" r="0.38"/><circle cx="358.1" cy="60.9" r="0.38"/><circle cx="353.0" cy="61.5" r="0.38"/><circle cx="358.9" cy="51.8" r="0.38"/><circle cx="353.3" cy="52.3" r="0.38"/><circle cx="354.7" cy="62.3" r="0.38"/><circle cx="352.6" cy="48.9" r="0.38"/><circle cx="353.9" cy="55.3" r="0.38"/><circle cx="349.7" cy="46.5" r="0.38"/><circle cx="350.9" cy="58.1" r="0.38"/><circle cx="352.5" cy="56.4" r="0.38"/><circle cx="356.4" cy="49.2" r="0.38"/><circle cx="357.3" cy="50.3" r="0.38"/><circle cx="354.2" cy="44.8" r="0.38"/><circle cx="352.6" cy="55.3" r="0.38"/><circle cx="349.8" cy="51.9" r="0.38"/><circle cx="349.2" cy="54.4" r="0.38"/><circle cx="351.8" cy="54.2" r="0.38"/><circle cx="349.1" cy="47.0" r="0.38"/><circle cx="350.2" cy="52.7" r="0.38"/><circle cx="356.5" cy="54.2" r="0.38"/><circle cx="356.5" cy="47.4" r="0.38"/><circle cx="345.5" cy="58.4" r="0.38"/><circle cx="357.2" cy="56.6" r="0.38"/><circle cx="352.0" cy="52.1" r="0.38"/><circle cx="351.0" cy="54.5" r="0.38"/><circle cx="352.0" cy="56.5" r="0.38"/><circle cx="356.0" cy="53.9" r="0.38"/><circle cx="357.9" cy="53.8" r="0.38"/><circle cx="357.0" cy="57.7" r="0.38"/><circle cx="350.6" cy="58.0" r="0.38"/><circle cx="356.6" cy="52.6" r="0.38"/><circle cx="361.7" cy="51.1" r="0.38"/><circle cx="352.2" cy="51.2" r="0.38"/><circle cx="351.1" cy="60.4" r="0.38"/><circle cx="355.4" cy="54.5" r="0.38"/><circle cx="357.8" cy="57.7" r="0.38"/><circle cx="355.5" cy="54.1" r="0.38"/><circle cx="357.7" cy="53.1" r="0.38"/><circle cx="354.9" cy="49.8" r="0.38"/><circle cx="356.1" cy="58.0" r="0.38"/><circle cx="354.0" cy="53.0" r="0.38"/><circle cx="349.2" cy="49.9" r="0.38"/><circle cx="351.9" cy="51.2" r="0.38"/><circle cx="356.1" cy="58.1" r="0.38"/><circle cx="354.0" cy="57.5" r="0.38"/><circle cx="351.6" cy="51.1" r="0.38"/><circle cx="348.9" cy="61.0" r="0.38"/><circle cx="351.4" cy="56.0" r="0.38"/><circle cx="356.3" cy="55.0" r="0.38"/><circle cx="349.3" cy="60.9" r="0.38"/><circle cx="351.2" cy="52.3" r="0.38"/><circle cx="350.2" cy="57.7" r="0.38"/><circle cx="355.3" cy="56.7" r="0.38"/><circle cx="352.3" cy="54.7" r="0.38"/><circle cx="354.3" cy="50.6" r="0.38"/><circle cx="359.1" cy="61.0" r="0.38"/><circle cx="357.0" cy="62.4" r="0.38"/><circle cx="357.0" cy="60.7" r="0.38"/><circle cx="349.0" cy="55.4" r="0.38"/><circle cx="348.7" cy="57.6" r="0.38"/><circle cx="351.8" cy="57.7" r="0.38"/><circle cx="361.8" cy="59.4" r="0.38"/><circle cx="347.4" cy="51.0" r="0.38"/><circle cx="350.1" cy="59.9" r="0.38"/><circle cx="360.9" cy="53.5" r="0.38"/><circle cx="352.1" cy="49.0" r="0.38"/><circle cx="349.0" cy="46.6" r="0.38"/><circle cx="351.4" cy="57.5" r="0.38"/><circle cx="353.0" cy="61.6" r="0.38"/><circle cx="359.2" cy="46.8" r="0.38"/><circle cx="348.4" cy="58.0" r="0.38"/><circle cx="349.9" cy="55.7" r="0.38"/><circle cx="354.5" cy="54.3" r="0.38"/><circle cx="354.5" cy="45.8" r="0.38"/><circle cx="362.3" cy="57.3" r="0.38"/><circle cx="354.8" cy="49.7" r="0.38"/><circle cx="359.6" cy="63.6" r="0.38"/><circle cx="356.9" cy="52.3" r="0.38"/><circle cx="352.4" cy="51.5" r="0.38"/><circle cx="349.5" cy="61.5" r="0.38"/><circle cx="357.6" cy="57.1" r="0.38"/><circle cx="352.3" cy="53.3" r="0.38"/><circle cx="351.0" cy="51.5" r="0.38"/><circle cx="354.9" cy="58.1" r="0.38"/><circle cx="353.9" cy="62.5" r="0.38"/><circle cx="352.4" cy="52.8" r="0.38"/><circle cx="353.4" cy="53.4" r="0.38"/><circle cx="357.9" cy="49.5" r="0.38"/><circle cx="353.6" cy="49.5" r="0.38"/><circle cx="357.5" cy="55.7" r="0.38"/><circle cx="349.2" cy="62.5" r="0.38"/><circle cx="357.2" cy="58.8" r="0.38"/><circle cx="359.5" cy="61.1" r="0.38"/><circle cx="349.2" cy="52.0" r="0.38"/><circle cx="357.3" cy="57.1" r="0.38"/><circle cx="355.4" cy="48.4" r="0.38"/><circle cx="352.2" cy="57.9" r="0.38"/><circle cx="355.2" cy="54.3" r="0.38"/><circle cx="360.0" cy="52.1" r="0.38"/><circle cx="352.9" cy="50.7" r="0.38"/><circle cx="353.3" cy="58.9" r="0.38"/><circle cx="356.7" cy="45.7" r="0.38"/><circle cx="361.1" cy="60.8" r="0.38"/><circle cx="351.3" cy="57.1" r="0.38"/><circle cx="355.0" cy="50.0" r="0.38"/><circle cx="351.5" cy="54.8" r="0.38"/><circle cx="352.5" cy="45.3" r="0.38"/><circle cx="357.8" cy="58.6" r="0.38"/><circle cx="359.5" cy="53.3" r="0.38"/><circle cx="352.1" cy="61.7" r="0.38"/><circle cx="346.2" cy="57.2" r="0.38"/><circle cx="350.5" cy="58.6" r="0.38"/><circle cx="347.4" cy="57.8" r="0.38"/><circle cx="351.6" cy="56.5" r="0.38"/><circle cx="357.9" cy="62.5" r="0.38"/><circle cx="348.2" cy="51.0" r="0.38"/><circle cx="347.4" cy="54.6" r="0.38"/><circle cx="353.8" cy="49.1" r="0.38"/><circle cx="355.5" cy="58.1" r="0.38"/><circle cx="353.0" cy="46.7" r="0.38"/><circle cx="355.3" cy="52.2" r="0.38"/><circle cx="354.1" cy="53.2" r="0.38"/><circle cx="356.8" cy="54.4" r="0.38"/><circle cx="351.1" cy="51.2" r="0.38"/><circle cx="350.4" cy="49.2" r="0.38"/><circle cx="352.0" cy="57.7" r="0.38"/><circle cx="353.4" cy="50.1" r="0.38"/><circle cx="352.0" cy="53.1" r="0.38"/><circle cx="359.2" cy="53.9" r="0.38"/><circle cx="358.2" cy="58.3" r="0.38"/><circle cx="357.8" cy="61.2" r="0.38"/><circle cx="350.9" cy="55.9" r="0.38"/><circle cx="349.8" cy="57.3" r="0.38"/><circle cx="351.1" cy="46.6" r="0.38"/><circle cx="351.1" cy="60.4" r="0.38"/><circle cx="352.8" cy="45.9" r="0.38"/><circle cx="348.2" cy="49.9" r="0.38"/><circle cx="358.7" cy="59.8" r="0.38"/><circle cx="348.5" cy="53.8" r="0.38"/><circle cx="358.1" cy="63.1" r="0.38"/><circle cx="351.3" cy="54.3" r="0.38"/><circle cx="350.7" cy="50.0" r="0.38"/><circle cx="357.6" cy="47.2" r="0.38"/><circle cx="350.9" cy="53.0" r="0.38"/><circle cx="357.5" cy="61.1" r="0.38"/><circle cx="357.7" cy="54.0" r="0.38"/><circle cx="356.0" cy="54.1" r="0.38"/><circle cx="353.7" cy="61.8" r="0.38"/><circle cx="354.4" cy="48.1" r="0.38"/><circle cx="358.4" cy="50.7" r="0.38"/><circle cx="356.8" cy="52.4" r="0.38"/><circle cx="354.1" cy="60.0" r="0.38"/><circle cx="345.9" cy="53.7" r="0.38"/><circle cx="350.2" cy="50.7" r="0.38"/><circle cx="359.5" cy="50.2" r="0.38"/><circle cx="355.8" cy="50.0" r="0.38"/><circle cx="354.9" cy="57.2" r="0.38"/><circle cx="352.1" cy="58.0" r="0.38"/></g>
<g fill="#444"><circle cx="325.7" cy="46.0" r="0.38"/><circle cx="309.8" cy="48.0" r="0.38"/><circle cx="303.3" cy="46.5" r="0.38"/><circle cx="347.0" cy="44.8" r="0.38"/><circle cx="330.2" cy="47.0" r="0.38"/><circle cx="305.0" cy="46.0" r="0.38"/><circle cx="337.5" cy="46.3" r="0.38"/><circle cx="338.5" cy="45.1" r="0.38"/><circle cx="314.7" cy="44.9" r="0.38"/><circle cx="327.8" cy="48.2" r="0.38"/><circle cx="331.9" cy="47.6" r="0.38"/><circle cx="321.8" cy="47.5" r="0.38"/><circle cx="308.0" cy="45.7" r="0.38"/><circle cx="336.0" cy="47.4" r="0.38"/><circle cx="323.7" cy="44.9" r="0.38"/><circle cx="316.1" cy="45.3" r="0.38"/><circle cx="316.8" cy="47.7" r="0.38"/><circle cx="312.8" cy="48.0" r="0.38"/><circle cx="346.1" cy="44.7" r="0.38"/><circle cx="321.6" cy="46.5" r="0.38"/><circle cx="304.2" cy="46.2" r="0.38"/><circle cx="347.4" cy="44.9" r="0.38"/><circle cx="332.2" cy="45.0" r="0.38"/><circle cx="331.4" cy="48.1" r="0.38"/><circle cx="312.9" cy="44.5" r="0.38"/><circle cx="307.1" cy="46.7" r="0.38"/><circle cx="303.9" cy="44.8" r="0.38"/><circle cx="327.3" cy="48.2" r="0.38"/><circle cx="323.6" cy="46.1" r="0.38"/><circle cx="334.3" cy="44.9" r="0.38"/><circle cx="331.4" cy="45.2" r="0.38"/><circle cx="332.8" cy="48.3" r="0.38"/><circle cx="305.7" cy="46.7" r="0.38"/><circle cx="332.7" cy="45.1" r="0.38"/><circle cx="316.1" cy="48.5" r="0.38"/><circle cx="351.9" cy="45.0" r="0.38"/><circle cx="337.6" cy="48.3" r="0.38"/><circle cx="314.6" cy="46.9" r="0.38"/><circle cx="305.1" cy="46.0" r="0.38"/><circle cx="336.0" cy="46.9" r="0.38"/><circle cx="341.0" cy="44.8" r="0.38"/><circle cx="320.0" cy="48.0" r="0.38"/><circle cx="331.6" cy="46.3" r="0.38"/><circle cx="322.7" cy="48.4" r="0.38"/><circle cx="331.1" cy="44.6" r="0.38"/><circle cx="342.2" cy="45.8" r="0.38"/><circle cx="324.2" cy="45.4" r="0.38"/><circle cx="324.8" cy="45.8" r="0.38"/><circle cx="307.4" cy="47.0" r="0.38"/><circle cx="308.1" cy="47.6" r="0.38"/></g>
<g filter="url(#bl3)">
<path d="M288.2,51 C288.2,46.5 291,44.5 295,44.5 C299,44.5 302,45.5 303,47.5 L346,48 C352,48.5 355,51.5 354.5,55.5 C354,59.5 351,62 346,62.5 L343,78 C350,79 356,80.5 359,82.5 C354,85.5 340,87 320,87.8 C307,88.5 299,88.8 296,88.8 C291,88.8 288.5,87.5 287.8,85 C285,84.6 282.5,84.2 281,83.6 C284,82.6 286,82.2 287.7,81.6 Z" fill="#4a4a4a"/>
</g>
<path d="M309,64.6 L346.5,64.6 L341,79.2 C336,79.4 331,79 327.5,78.2 C320,74 313,69 309,64.6 Z" fill="#fff"/>
<path d="M347,64 L341,80" stroke="#3a3a3a" stroke-width="1.6" fill="none" filter="url(#bl3)"/>
<path d="M304,57.2 C320,56.8 335,57 347,57.6" stroke="#909090" stroke-width="2" fill="none" filter="url(#bl3)"/>
<path d="M300,83.6 L345,83.6" stroke="#8a8a8a" stroke-width="0.6" fill="none" stroke-dasharray="2 0.8"/>
<g fill="none" stroke="#333" stroke-width="0.45">
<path d="M312.0,65.3 C316.0,65.5 320.0,72.5 325.5,70.0 C330.0,67.5 335.5,71.5 332.0,76.5 C330.0,78.0 326.0,77.0 322.0,74.5"/>
<path d="M313.2,65.5 C316.6,66.0 320.5,71.9 326.0,69.7 C330.0,67.8 335.0,71.5 332.5,76.0 C330.0,78.0 326.0,77.0 322.4,74.5"/>
<path d="M314.3,65.7 C317.3,66.5 321.0,71.3 326.5,69.5 C330.0,68.0 334.5,71.5 333.0,75.5 C330.0,78.0 326.0,77.0 322.8,74.5"/>
<path d="M315.5,65.9 C317.9,67.1 321.6,70.7 327.1,69.2 C330.0,68.3 333.9,71.5 333.6,74.9 C330.0,78.0 326.0,77.0 323.2,74.5"/>
<path d="M316.7,66.1 C318.6,67.6 322.1,70.2 327.6,69.0 C330.0,68.5 333.4,71.5 334.1,74.4 C330.0,78.0 326.0,77.0 323.6,74.5"/>
<path d="M317.9,66.3 C319.2,68.1 322.6,69.6 328.1,68.7 C330.0,68.8 332.9,71.5 334.6,73.9 C330.0,78.0 326.0,77.0 323.9,74.5"/>
<path d="M319.0,66.5 C319.9,68.6 323.1,69.0 328.6,68.4 C330.0,69.1 332.4,71.5 335.1,73.4 C330.0,78.0 326.0,77.0 324.3,74.5"/>
<path d="M336.0,65.2 C339.0,67.0 340.5,70.0 338.5,75.0"/>
<path d="M337.5,65.2 C340.0,67.0 341.0,70.0 339.2,76.0"/>
<path d="M339.0,65.2 C341.0,67.0 341.5,70.0 339.9,77.0"/>
</g>
<rect x="273.9" y="32.0" width="95.80000000000001" height="74.2" fill="none" stroke="#3a3a3a" stroke-width="0.8"/>
<rect x="273.9" y="43.2" width="28.100000000000023" height="24.2" fill="none" stroke="#3a3a3a" stroke-width="0.7"/>
<rect x="307.09999999999997" y="42.9" width="58.400000000000034" height="21.4" fill="none" stroke="#3a3a3a" stroke-width="0.7"/>
<text x="278.29999999999995" y="42.2" font-size="5.4" text-anchor="start" fill="#222" textLength="14.8" lengthAdjust="spacingAndGlyphs">1 HPC</text>
<text x="349.9" y="41.8" font-size="8.0" font-weight="bold" text-anchor="end" fill="#000">10.9±3.2%</text>
<text x="352.9" y="41.8" font-size="5.4" text-anchor="start" fill="#222" textLength="10.2" lengthAdjust="spacingAndGlyphs">HSC</text>
<line x1="272.29999999999995" y1="33.5" x2="273.9" y2="33.5" stroke="#555" stroke-width="0.45"/>
<line x1="272.29999999999995" y1="36.25" x2="273.9" y2="36.25" stroke="#555" stroke-width="0.45"/>
<line x1="272.29999999999995" y1="39.0" x2="273.9" y2="39.0" stroke="#555" stroke-width="0.45"/>
<line x1="272.29999999999995" y1="41.75" x2="273.9" y2="41.75" stroke="#555" stroke-width="0.45"/>
<line x1="272.29999999999995" y1="44.5" x2="273.9" y2="44.5" stroke="#555" stroke-width="0.45"/>
<line x1="272.29999999999995" y1="47.25" x2="273.9" y2="47.25" stroke="#555" stroke-width="0.45"/>
<line x1="272.29999999999995" y1="50.0" x2="273.9" y2="50.0" stroke="#555" stroke-width="0.45"/>
<line x1="272.29999999999995" y1="52.75" x2="273.9" y2="52.75" stroke="#555" stroke-width="0.45"/>
<line x1="272.29999999999995" y1="55.5" x2="273.9" y2="55.5" stroke="#555" stroke-width="0.45"/>
<line x1="272.29999999999995" y1="58.25" x2="273.9" y2="58.25" stroke="#555" stroke-width="0.45"/>
<line x1="272.29999999999995" y1="61.0" x2="273.9" y2="61.0" stroke="#555" stroke-width="0.45"/>
<line x1="272.29999999999995" y1="63.75" x2="273.9" y2="63.75" stroke="#555" stroke-width="0.45"/>
<line x1="272.29999999999995" y1="66.5" x2="273.9" y2="66.5" stroke="#555" stroke-width="0.45"/>
<line x1="272.29999999999995" y1="69.25" x2="273.9" y2="69.25" stroke="#555" stroke-width="0.45"/>
<line x1="272.29999999999995" y1="72.0" x2="273.9" y2="72.0" stroke="#555" stroke-width="0.45"/>
<line x1="272.29999999999995" y1="74.75" x2="273.9" y2="74.75" stroke="#555" stroke-width="0.45"/>
<line x1="272.29999999999995" y1="77.5" x2="273.9" y2="77.5" stroke="#555" stroke-width="0.45"/>
<line x1="272.29999999999995" y1="80.25" x2="273.9" y2="80.25" stroke="#555" stroke-width="0.45"/>
<line x1="272.29999999999995" y1="83.0" x2="273.9" y2="83.0" stroke="#555" stroke-width="0.45"/>
<line x1="272.29999999999995" y1="85.75" x2="273.9" y2="85.75" stroke="#555" stroke-width="0.45"/>
<line x1="272.29999999999995" y1="88.5" x2="273.9" y2="88.5" stroke="#555" stroke-width="0.45"/>
<line x1="272.29999999999995" y1="91.25" x2="273.9" y2="91.25" stroke="#555" stroke-width="0.45"/>
<line x1="272.29999999999995" y1="94.0" x2="273.9" y2="94.0" stroke="#555" stroke-width="0.45"/>
<line x1="272.29999999999995" y1="96.75" x2="273.9" y2="96.75" stroke="#555" stroke-width="0.45"/>
<line x1="272.29999999999995" y1="99.5" x2="273.9" y2="99.5" stroke="#555" stroke-width="0.45"/>
<line x1="272.29999999999995" y1="102.25" x2="273.9" y2="102.25" stroke="#555" stroke-width="0.45"/>
<line x1="272.29999999999995" y1="105.0" x2="273.9" y2="105.0" stroke="#555" stroke-width="0.45"/>
<line x1="270.59999999999997" y1="39.3" x2="273.9" y2="39.3" stroke="#222" stroke-width="0.8"/>
<line x1="270.59999999999997" y1="56.8" x2="273.9" y2="56.8" stroke="#222" stroke-width="0.8"/>
<line x1="270.59999999999997" y1="77.5" x2="273.9" y2="77.5" stroke="#222" stroke-width="0.8"/>
<rect x="272.0" y="78" width="1.9" height="14.8" fill="#1e1e1e"/>
<line x1="274.9" y1="106.2" x2="274.9" y2="108.10000000000001" stroke="#555" stroke-width="0.45"/>
<line x1="277.25" y1="106.2" x2="277.25" y2="108.10000000000001" stroke="#555" stroke-width="0.45"/>
<line x1="279.59999999999997" y1="106.2" x2="279.59999999999997" y2="108.10000000000001" stroke="#555" stroke-width="0.45"/>
<line x1="281.95" y1="106.2" x2="281.95" y2="108.10000000000001" stroke="#555" stroke-width="0.45"/>
<line x1="284.29999999999995" y1="106.2" x2="284.29999999999995" y2="108.10000000000001" stroke="#555" stroke-width="0.45"/>
<line x1="286.65" y1="106.2" x2="286.65" y2="108.10000000000001" stroke="#555" stroke-width="0.45"/>
<line x1="289.0" y1="106.2" x2="289.0" y2="108.10000000000001" stroke="#555" stroke-width="0.45"/>
<line x1="291.34999999999997" y1="106.2" x2="291.34999999999997" y2="108.10000000000001" stroke="#555" stroke-width="0.45"/>
<line x1="293.7" y1="106.2" x2="293.7" y2="108.10000000000001" stroke="#555" stroke-width="0.45"/>
<line x1="296.04999999999995" y1="106.2" x2="296.04999999999995" y2="108.10000000000001" stroke="#555" stroke-width="0.45"/>
<line x1="298.4" y1="106.2" x2="298.4" y2="108.10000000000001" stroke="#555" stroke-width="0.45"/>
<line x1="300.75" y1="106.2" x2="300.75" y2="108.10000000000001" stroke="#555" stroke-width="0.45"/>
<line x1="303.09999999999997" y1="106.2" x2="303.09999999999997" y2="108.10000000000001" stroke="#555" stroke-width="0.45"/>
<line x1="305.45" y1="106.2" x2="305.45" y2="108.10000000000001" stroke="#555" stroke-width="0.45"/>
<line x1="307.79999999999995" y1="106.2" x2="307.79999999999995" y2="108.10000000000001" stroke="#555" stroke-width="0.45"/>
<line x1="310.15" y1="106.2" x2="310.15" y2="108.10000000000001" stroke="#555" stroke-width="0.45"/>
<line x1="312.5" y1="106.2" x2="312.5" y2="108.10000000000001" stroke="#555" stroke-width="0.45"/>
<line x1="314.84999999999997" y1="106.2" x2="314.84999999999997" y2="108.10000000000001" stroke="#555" stroke-width="0.45"/>
<line x1="317.2" y1="106.2" x2="317.2" y2="108.10000000000001" stroke="#555" stroke-width="0.45"/>
<line x1="319.54999999999995" y1="106.2" x2="319.54999999999995" y2="108.10000000000001" stroke="#555" stroke-width="0.45"/>
<line x1="321.9" y1="106.2" x2="321.9" y2="108.10000000000001" stroke="#555" stroke-width="0.45"/>
<line x1="324.25" y1="106.2" x2="324.25" y2="108.10000000000001" stroke="#555" stroke-width="0.45"/>
<line x1="326.59999999999997" y1="106.2" x2="326.59999999999997" y2="108.10000000000001" stroke="#555" stroke-width="0.45"/>
<line x1="328.95" y1="106.2" x2="328.95" y2="108.10000000000001" stroke="#555" stroke-width="0.45"/>
<line x1="331.29999999999995" y1="106.2" x2="331.29999999999995" y2="108.10000000000001" stroke="#555" stroke-width="0.45"/>
<line x1="333.65" y1="106.2" x2="333.65" y2="108.10000000000001" stroke="#555" stroke-width="0.45"/>
<line x1="336.0" y1="106.2" x2="336.0" y2="108.10000000000001" stroke="#555" stroke-width="0.45"/>
<line x1="338.34999999999997" y1="106.2" x2="338.34999999999997" y2="108.10000000000001" stroke="#555" stroke-width="0.45"/>
<line x1="340.7" y1="106.2" x2="340.7" y2="108.10000000000001" stroke="#555" stroke-width="0.45"/>
<line x1="343.04999999999995" y1="106.2" x2="343.04999999999995" y2="108.10000000000001" stroke="#555" stroke-width="0.45"/>
<line x1="345.4" y1="106.2" x2="345.4" y2="108.10000000000001" stroke="#555" stroke-width="0.45"/>
<line x1="347.75" y1="106.2" x2="347.75" y2="108.10000000000001" stroke="#555" stroke-width="0.45"/>
<line x1="350.09999999999997" y1="106.2" x2="350.09999999999997" y2="108.10000000000001" stroke="#555" stroke-width="0.45"/>
<line x1="352.45" y1="106.2" x2="352.45" y2="108.10000000000001" stroke="#555" stroke-width="0.45"/>
<line x1="354.79999999999995" y1="106.2" x2="354.79999999999995" y2="108.10000000000001" stroke="#555" stroke-width="0.45"/>
<line x1="357.15" y1="106.2" x2="357.15" y2="108.10000000000001" stroke="#555" stroke-width="0.45"/>
<line x1="359.5" y1="106.2" x2="359.5" y2="108.10000000000001" stroke="#555" stroke-width="0.45"/>
<line x1="361.84999999999997" y1="106.2" x2="361.84999999999997" y2="108.10000000000001" stroke="#555" stroke-width="0.45"/>
<line x1="364.2" y1="106.2" x2="364.2" y2="108.10000000000001" stroke="#555" stroke-width="0.45"/>
<line x1="366.54999999999995" y1="106.2" x2="366.54999999999995" y2="108.10000000000001" stroke="#555" stroke-width="0.45"/>
<line x1="293.9" y1="106.2" x2="293.9" y2="109.5" stroke="#222" stroke-width="0.8"/>
<line x1="313.4" y1="106.2" x2="313.4" y2="109.5" stroke="#222" stroke-width="0.8"/>
<line x1="338.0" y1="106.2" x2="338.0" y2="109.5" stroke="#222" stroke-width="0.8"/>
<line x1="359.9" y1="106.2" x2="359.9" y2="109.5" stroke="#222" stroke-width="0.8"/>
<rect x="273.9" y="106.2" width="14" height="1.3" fill="#444"/>
<text x="266.9" y="38.5" font-size="4.9" fill="#222" text-anchor="middle" transform="rotate(-90 266.9 38.5)">10<tspan font-size="3.3" dy="-2">5</tspan></text>
<text x="266.9" y="56.2" font-size="4.9" fill="#222" text-anchor="middle" transform="rotate(-90 266.9 56.2)">10<tspan font-size="3.3" dy="-2">4</tspan></text>
<text x="266.9" y="76.2" font-size="4.9" fill="#222" text-anchor="middle" transform="rotate(-90 266.9 76.2)">10<tspan font-size="3.3" dy="-2">3</tspan></text>
<text x="266.9" y="86" font-size="4.9" fill="#222" text-anchor="middle" transform="rotate(-90 266.9 86)">0</text>
<text x="266.9" y="92.5" font-size="4.9" fill="#222" text-anchor="middle" transform="rotate(-90 266.9 92.5)">-10<tspan font-size="3.3" dy="-2">3</tspan></text>
<text x="266.9" y="105.5" font-size="4.9" fill="#222" text-anchor="middle" transform="rotate(-90 266.9 105.5)">-4,018</text>
<text x="260.7" y="68" font-size="6.0" text-anchor="middle" fill="#1a1a1a" transform="rotate(-90 260.7 68)">APC-A</text>
<text x="273.4" y="118.4" font-size="4.9" fill="#222" text-anchor="middle">-1,075</text>
<text x="293.9" y="115.4" font-size="4.9" fill="#222" text-anchor="middle">0</text>
<text x="313.4" y="116.2" font-size="4.9" fill="#222" text-anchor="middle">10<tspan font-size="3.3" dy="-2">3</tspan></text>
<text x="338.0" y="116.2" font-size="4.9" fill="#222" text-anchor="middle">10<tspan font-size="3.3" dy="-2">4</tspan></text>
<text x="359.9" y="116.2" font-size="4.9" fill="#222" text-anchor="middle">10<tspan font-size="3.3" dy="-2">5</tspan></text>
<text x="321.4" y="122.6" font-size="6.2" text-anchor="middle" fill="#1a1a1a">PE-A</text>
<text x="306.7" y="31.0" font-size="6.4" text-anchor="start" fill="#2a2a2a" textLength="10.4" lengthAdjust="spacingAndGlyphs">Lin-</text>
<text x="325.3" y="132.3" font-size="7.9" font-weight="bold" text-anchor="middle" fill="#000">Rx1+/- Cbfβ +/-</text>
<text x="379.2" y="9.4" font-size="11.2" font-weight="bold" text-anchor="start" fill="#000">C</text>
<rect x="410.8" y="3.6" width="8.3" height="4.2" fill="#fff" stroke="#000" stroke-width="1.6"/>
<text x="423.3" y="8.8" font-size="8.2" font-weight="bold" text-anchor="start" fill="#000" textLength="10.6" lengthAdjust="spacingAndGlyphs">WT</text>
<rect x="410.8" y="13.6" width="8.3" height="4.6" fill="url(#hatch)" stroke="#000" stroke-width="1.6"/>
<text x="423.3" y="17.9" font-size="7.8" font-weight="bold" text-anchor="start" fill="#000" textLength="51.8" lengthAdjust="spacingAndGlyphs">Rx1+/- Cbfβ +/-</text>
<line x1="406.5" y1="32.8" x2="406.5" y2="122.6" stroke="#000" stroke-width="1.3"/>
<line x1="406.5" y1="122" x2="519" y2="122" stroke="#000" stroke-width="1.3"/>
<line x1="403.3" y1="122.0" x2="406.5" y2="122.0" stroke="#000" stroke-width="1.1"/>
<text x="403.1" y="124.7" font-size="7.4" font-weight="bold" text-anchor="end" fill="#000" textLength="3.6" lengthAdjust="spacingAndGlyphs">0</text>
<line x1="403.3" y1="104.2" x2="406.5" y2="104.2" stroke="#000" stroke-width="1.1"/>
<text x="403.1" y="106.9" font-size="7.4" font-weight="bold" text-anchor="end" fill="#000" textLength="3.6" lengthAdjust="spacingAndGlyphs">5</text>
<line x1="403.3" y1="86.4" x2="406.5" y2="86.4" stroke="#000" stroke-width="1.1"/>
<text x="403.1" y="89.10000000000001" font-size="7.4" font-weight="bold" text-anchor="end" fill="#000" textLength="7.2" lengthAdjust="spacingAndGlyphs">10</text>
<line x1="403.3" y1="68.6" x2="406.5" y2="68.6" stroke="#000" stroke-width="1.1"/>
<text x="403.1" y="71.3" font-size="7.4" font-weight="bold" text-anchor="end" fill="#000" textLength="7.2" lengthAdjust="spacingAndGlyphs">15</text>
<line x1="403.3" y1="50.8" x2="406.5" y2="50.8" stroke="#000" stroke-width="1.1"/>
<text x="403.1" y="53.5" font-size="7.4" font-weight="bold" text-anchor="end" fill="#000" textLength="7.2" lengthAdjust="spacingAndGlyphs">20</text>
<line x1="403.3" y1="33.0" x2="406.5" y2="33.0" stroke="#000" stroke-width="1.1"/>
<text x="403.1" y="35.7" font-size="7.4" font-weight="bold" text-anchor="end" fill="#000" textLength="7.2" lengthAdjust="spacingAndGlyphs">25</text>
<rect x="417.65" y="102.45" width="13.300000000000011" height="19.549999999999997" fill="#fff" stroke="#000" stroke-width="1.5"/>
<rect x="438.15" y="83.95" width="13.800000000000011" height="38.05" fill="url(#hatch)" stroke="#000" stroke-width="1.5"/>
<line x1="445.2" y1="71.8" x2="445.2" y2="83.2" stroke="#000" stroke-width="1.4"/>
<line x1="441.0" y1="71.8" x2="449.4" y2="71.8" stroke="#000" stroke-width="1.4"/>
<line x1="418.5" y1="101.0" x2="430.0" y2="101.0" stroke="#000" stroke-width="1.2"/>
<rect x="473.65" y="50.75" width="12.800000000000011" height="71.25" fill="#fff" stroke="#000" stroke-width="1.5"/>
<line x1="480.1" y1="41.6" x2="480.1" y2="50.0" stroke="#000" stroke-width="1.4"/>
<line x1="475.8" y1="41.6" x2="484.40000000000003" y2="41.6" stroke="#000" stroke-width="1.4"/>
<rect x="494.35" y="51.55" width="13.699999999999989" height="70.45" fill="url(#hatch)" stroke="#000" stroke-width="1.5"/>
<line x1="495" y1="50.6" x2="507.5" y2="50.6" stroke="#000" stroke-width="1.2"/>
<line x1="434.8" y1="122" x2="434.8" y2="124.6" stroke="#000" stroke-width="1.1"/>
<line x1="490.4" y1="122" x2="490.4" y2="124.6" stroke="#000" stroke-width="1.1"/>
<text x="420.3" y="60.7" font-size="6.4" font-weight="bold" text-anchor="start" fill="#000" textLength="25.6" lengthAdjust="spacingAndGlyphs" style="stroke-width:0.1px">p*=0.045</text>
<polyline points="422.6,67.8 422.6,63.9 444.7,63.9 444.7,67.8" fill="none" stroke="#000" stroke-width="1.1"/>
<text x="478.8" y="31.9" font-size="6.4" font-weight="bold" text-anchor="start" fill="#000" style="stroke-width:0.1px">p=0.827</text>
<polyline points="479.6,38.0 479.6,33.9 501.8,33.9 501.8,38.0" fill="none" stroke="#000" stroke-width="1.1"/>
<text x="388.4" y="74.8" font-size="8.6" font-weight="bold" text-anchor="middle" fill="#000" transform="rotate(-90 388.4 74.8)" textLength="28.3" lengthAdjust="spacingAndGlyphs">% Lin-</text>
<text x="439.0" y="129.7" font-size="8.3" font-weight="bold" text-anchor="end" fill="#000" transform="rotate(-45 439.0 129.7)" style="stroke-width:0.15px">HSC</text>
<text x="494.3" y="131.8" font-size="8.3" font-weight="bold" text-anchor="end" fill="#000" transform="rotate(-45 494.3 131.8)" style="stroke-width:0.15px">HPC</text>
<text x="0.9" y="171.4" font-size="11.2" font-weight="bold" text-anchor="start" fill="#000">D</text>
<rect x="28.6" y="173.0" width="8.4" height="4.2" fill="#fff" stroke="#000" stroke-width="1.6"/>
<text x="45.3" y="177.1" font-size="7.8" font-weight="bold" text-anchor="start" fill="#000" textLength="10.8" lengthAdjust="spacingAndGlyphs">WT</text>
<rect x="28.6" y="181.6" width="8.3" height="4.6" fill="url(#hatch)" stroke="#000" stroke-width="1.6"/>
<text x="45.3" y="186.3" font-size="7.8" font-weight="bold" text-anchor="start" fill="#000" textLength="52.5" lengthAdjust="spacingAndGlyphs">Rx1+/- Cbfβ +/-</text>
<line x1="22.6" y1="183.3" x2="22.6" y2="271.40000000000003" stroke="#000" stroke-width="1.3"/>
<line x1="22.6" y1="270.8" x2="144.3" y2="270.8" stroke="#000" stroke-width="1.3"/>
<line x1="19.400000000000002" y1="270.8" x2="22.6" y2="270.8" stroke="#000" stroke-width="1.1"/>
<text x="18.0" y="273.2" font-size="6.9" font-weight="bold" text-anchor="end" fill="#000" textLength="3.3" lengthAdjust="spacingAndGlyphs">0</text>
<line x1="19.400000000000002" y1="241.70000000000002" x2="22.6" y2="241.70000000000002" stroke="#000" stroke-width="1.1"/>
<text x="18.0" y="244.10000000000002" font-size="6.9" font-weight="bold" text-anchor="end" fill="#000" textLength="6.6" lengthAdjust="spacingAndGlyphs">20</text>
<line x1="19.400000000000002" y1="212.60000000000002" x2="22.6" y2="212.60000000000002" stroke="#000" stroke-width="1.1"/>
<text x="18.0" y="215.00000000000003" font-size="6.9" font-weight="bold" text-anchor="end" fill="#000" textLength="6.6" lengthAdjust="spacingAndGlyphs">40</text>
<line x1="19.400000000000002" y1="183.5" x2="22.6" y2="183.5" stroke="#000" stroke-width="1.1"/>
<text x="18.0" y="185.9" font-size="6.9" font-weight="bold" text-anchor="end" fill="#000" textLength="6.6" lengthAdjust="spacingAndGlyphs">60</text>
<rect x="30.95" y="225.25" width="8.900000000000002" height="45.55000000000001" fill="#fff" stroke="#000" stroke-width="1.5"/>
<line x1="35.4" y1="215.3" x2="35.4" y2="224.5" stroke="#000" stroke-width="1.4"/>
<line x1="32.0" y1="215.3" x2="38.8" y2="215.3" stroke="#000" stroke-width="1.4"/>
<rect x="45.75" y="233.75" width="9.100000000000001" height="37.05000000000001" fill="url(#hatch)" stroke="#000" stroke-width="1.5"/>
<line x1="50.3" y1="229.2" x2="50.3" y2="233.0" stroke="#000" stroke-width="1.4"/>
<line x1="46.9" y1="229.2" x2="53.699999999999996" y2="229.2" stroke="#000" stroke-width="1.4"/>
<rect x="71.25" y="251.05" width="8.5" height="19.75" fill="#fff" stroke="#000" stroke-width="1.5"/>
<rect x="86.05" y="254.95" width="9.799999999999997" height="15.850000000000023" fill="url(#hatch)" stroke="#000" stroke-width="1.5"/>
<rect x="111.25" y="209.45" width="9.200000000000003" height="61.35000000000002" fill="#fff" stroke="#000" stroke-width="1.5"/>
<line x1="115.9" y1="198.3" x2="115.9" y2="208.7" stroke="#000" stroke-width="1.4"/>
<line x1="112.5" y1="198.3" x2="119.30000000000001" y2="198.3" stroke="#000" stroke-width="1.4"/>
<rect x="126.35" y="194.95" width="9.900000000000006" height="75.85000000000002" fill="url(#hatch)" stroke="#000" stroke-width="1.5"/>
<line x1="131.3" y1="192.6" x2="131.3" y2="194.2" stroke="#000" stroke-width="1.4"/>
<line x1="127.9" y1="192.6" x2="134.70000000000002" y2="192.6" stroke="#000" stroke-width="1.4"/>
<line x1="43" y1="270.8" x2="43" y2="273.40000000000003" stroke="#000" stroke-width="1.1"/>
<line x1="83" y1="270.8" x2="83" y2="273.40000000000003" stroke="#000" stroke-width="1.1"/>
<line x1="123.5" y1="270.8" x2="123.5" y2="273.40000000000003" stroke="#000" stroke-width="1.1"/>
<text x="32.7" y="202.9" font-size="6.4" font-weight="bold" text-anchor="start" fill="#000" textLength="21.6" lengthAdjust="spacingAndGlyphs" style="stroke-width:0.1px">p=0.348</text>
<polyline points="36.0,210.2 36.0,205.6 52.0,205.6 52.0,210.2" fill="none" stroke="#000" stroke-width="1.1"/>
<text x="71.8" y="239.4" font-size="6.4" font-weight="bold" text-anchor="start" fill="#000" textLength="27.6" lengthAdjust="spacingAndGlyphs" style="stroke-width:0.1px">p**=0.004</text>
<polyline points="75.7,245.6 75.7,241.8 91.7,241.8 91.7,245.6" fill="none" stroke="#000" stroke-width="1.1"/>
<text x="112.0" y="183.1" font-size="6.4" font-weight="bold" text-anchor="start" fill="#000" style="stroke-width:0.1px">p=0.237</text>
<polyline points="116.0,190.4 116.0,187.2 132.4,187.2 132.4,190.4" fill="none" stroke="#000" stroke-width="1.1"/>
<text x="8.4" y="230.9" font-size="8.4" font-weight="bold" text-anchor="middle" fill="#000" transform="rotate(-90 8.4 230.9)" textLength="24.6" lengthAdjust="spacingAndGlyphs">% HPC</text>
<text x="46.6" y="280.2" font-size="8.0" font-weight="bold" text-anchor="end" fill="#000" transform="rotate(-45 46.6 280.2)" style="stroke-width:0.15px">GMP</text>
<text x="87.4" y="280.0" font-size="8.2" font-weight="bold" text-anchor="end" fill="#000" transform="rotate(-45 87.4 280.0)" style="stroke-width:0.15px">CMP</text>
<text x="128.8" y="279.8" font-size="8.2" font-weight="bold" text-anchor="end" fill="#000" transform="rotate(-45 128.8 279.8)" style="stroke-width:0.15px">MEP</text>
<text x="176.6" y="171.4" font-size="11.2" font-weight="bold" text-anchor="start" fill="#000">E</text>
<line x1="201.8" y1="189.3" x2="201.8" y2="267.1" stroke="#000" stroke-width="1.3"/>
<line x1="201.8" y1="266.5" x2="330" y2="266.5" stroke="#000" stroke-width="1.3"/>
<line x1="199.20000000000002" y1="266.5" x2="201.8" y2="266.5" stroke="#000" stroke-width="1.1"/>
<text x="197.3" y="268.6" font-size="7.8" font-weight="bold" text-anchor="end" fill="#000" textLength="4.3" lengthAdjust="spacingAndGlyphs">0</text>
<line x1="199.20000000000002" y1="240.9" x2="201.8" y2="240.9" stroke="#000" stroke-width="1.1"/>
<text x="197.3" y="243.0" font-size="7.8" font-weight="bold" text-anchor="end" fill="#000" textLength="8.6" lengthAdjust="spacingAndGlyphs">10</text>
<line x1="199.20000000000002" y1="215.3" x2="201.8" y2="215.3" stroke="#000" stroke-width="1.1"/>
<text x="197.3" y="217.4" font-size="7.8" font-weight="bold" text-anchor="end" fill="#000" textLength="8.6" lengthAdjust="spacingAndGlyphs">20</text>
<line x1="199.20000000000002" y1="189.7" x2="201.8" y2="189.7" stroke="#000" stroke-width="1.1"/>
<text x="197.3" y="191.79999999999998" font-size="7.8" font-weight="bold" text-anchor="end" fill="#000" textLength="8.6" lengthAdjust="spacingAndGlyphs">30</text>
<line x1="217.7" y1="266.5" x2="217.7" y2="268.9" stroke="#000" stroke-width="1.1"/>
<line x1="249.4" y1="266.5" x2="249.4" y2="268.9" stroke="#000" stroke-width="1.1"/>
<line x1="281.4" y1="266.5" x2="281.4" y2="268.9" stroke="#000" stroke-width="1.1"/>
<line x1="312.6" y1="266.5" x2="312.6" y2="268.9" stroke="#000" stroke-width="1.1"/>
<circle cx="224" cy="217.8" r="1.9" fill="#000"/>
<circle cx="217.8" cy="222.9" r="1.9" fill="#000"/>
<circle cx="214.7" cy="225.5" r="1.9" fill="#000"/>
<circle cx="211.1" cy="227.8" r="1.9" fill="#000"/>
<circle cx="224" cy="228.1" r="1.9" fill="#000"/>
<circle cx="217.8" cy="230.6" r="1.9" fill="#000"/>
<circle cx="217.8" cy="237.9" r="1.9" fill="#000"/>
<line x1="206.2" y1="227.4" x2="229.2" y2="227.4" stroke="#000" stroke-width="1.3"/>
<rect x="241.0" y="202.5" width="4.0" height="4.0" fill="#000"/>
<rect x="247.5" y="202.5" width="4.0" height="4.0" fill="#000"/>
<rect x="254.0" y="197.1" width="4.0" height="4.0" fill="#000"/>
<rect x="241.0" y="215.7" width="4.0" height="4.0" fill="#000"/>
<rect x="254.0" y="218.0" width="4.0" height="4.0" fill="#000"/>
<rect x="247.5" y="221.1" width="4.0" height="4.0" fill="#000"/>
<line x1="238.4" y1="212" x2="260.7" y2="212" stroke="#000" stroke-width="1.3"/>
<polygon points="272.55,222.06189999999998 276.84999999999997,222.06189999999998 274.7,218.3381" fill="#000"/>
<polygon points="279.05,224.7619 283.34999999999997,224.7619 281.2,221.03810000000001" fill="#000"/>
<polygon points="275.35,226.8619 279.65,226.8619 277.5,223.1381" fill="#000"/>
<polygon points="272.55,230.1619 276.84999999999997,230.1619 274.7,226.43810000000002" fill="#000"/>
<polygon points="279.05,232.2619 283.34999999999997,232.2619 281.2,228.53810000000001" fill="#000"/>
<polygon points="283.85,230.1619 288.15,230.1619 286.0,226.43810000000002" fill="#000"/>
<line x1="270.2" y1="225.9" x2="293" y2="225.9" stroke="#000" stroke-width="1.3"/>
<polygon points="310.75,207.3381 315.04999999999995,207.3381 312.9,211.06189999999998" fill="#000"/>
<polygon points="316.25,205.1381 320.54999999999995,205.1381 318.4,208.8619" fill="#000"/>
<polygon points="311.65000000000003,212.7381 315.95,212.7381 313.8,216.46189999999999" fill="#000"/>
<polygon points="311.65000000000003,220.2381 315.95,220.2381 313.8,223.96189999999999" fill="#000"/>
<line x1="302.3" y1="213.8" x2="324" y2="213.8" stroke="#000" stroke-width="1.3"/>
<text x="215.9" y="184.5" font-size="6.4" font-weight="bold" text-anchor="start" fill="#000" style="stroke-width:0.1px">p**=0.0054</text>
<polyline points="217.8,193.3 217.8,188.2 247.6,188.2 247.6,193.3" fill="none" stroke="#000" stroke-width="1.1"/>
<text x="281.9" y="194.3" font-size="6.4" font-weight="bold" text-anchor="start" fill="#000" style="stroke-width:0.1px">p**=0.003</text>
<polyline points="281.5,201.3 281.5,197.8 312.0,197.8 312.0,201.3" fill="none" stroke="#000" stroke-width="1.1"/>
<text x="185.0" y="227.0" font-size="7.2" font-weight="bold" text-anchor="middle" transform="rotate(-90 185.0 227.0)" textLength="71" lengthAdjust="spacingAndGlyphs">Colonies/ 1*10<tspan font-size="5" dy="-2.5">5</tspan><tspan dy="2.5"> cells</tspan></text>
<text transform="translate(221.1 273.2) scale(1.08 1) rotate(-45)" x="0" y="0" font-size="8.1" font-weight="bold" text-anchor="end" style="stroke-width:0.12px">WT d8</text>
<text transform="translate(253.4 273.1) scale(1.08 1) rotate(-45)" x="0" y="0" font-size="7.8" font-weight="bold" text-anchor="end" style="stroke-width:0.12px">Rx1+/- Cbfβ+/- d8</text>
<text transform="translate(284.29999999999995 273.3) scale(1.08 1) rotate(-45)" x="0" y="0" font-size="8.1" font-weight="bold" text-anchor="end" style="stroke-width:0.12px">WT d12</text>
<text transform="translate(314.6 272.3) scale(1.08 1) rotate(-45)" x="0" y="0" font-size="7.9" font-weight="bold" text-anchor="end" style="stroke-width:0.12px">Rx1+/- Cbfβ+/- d12</text>
<text x="352.2" y="171.4" font-size="11.2" font-weight="bold" text-anchor="start" fill="#000">F</text>
<line x1="390.6" y1="171.8" x2="390.6" y2="207.2" stroke="#000" stroke-width="1.3"/>
<line x1="389.20000000000005" y1="207.2" x2="392.20000000000005" y2="207.2" stroke="#000" stroke-width="1.1"/>
<line x1="390.6" y1="211.2" x2="390.6" y2="266.2" stroke="#000" stroke-width="1.3"/>
<line x1="388.0" y1="211.6" x2="392.20000000000005" y2="211.6" stroke="#000" stroke-width="1.1"/>
<line x1="390.6" y1="265.6" x2="515.5" y2="265.6" stroke="#000" stroke-width="1.3"/>
<line x1="388.20000000000005" y1="172.2" x2="390.6" y2="172.2" stroke="#000" stroke-width="1.1"/>
<text x="387.0" y="173.79999999999998" font-size="7.3" font-weight="bold" text-anchor="end" fill="#000" textLength="10.350000000000001" lengthAdjust="spacingAndGlyphs">100</text>
<line x1="388.20000000000005" y1="181.5" x2="390.6" y2="181.5" stroke="#000" stroke-width="1.1"/>
<text x="387.0" y="183.1" font-size="7.3" font-weight="bold" text-anchor="end" fill="#000" textLength="6.9" lengthAdjust="spacingAndGlyphs">80</text>
<line x1="388.20000000000005" y1="191.7" x2="390.6" y2="191.7" stroke="#000" stroke-width="1.1"/>
<text x="387.0" y="193.29999999999998" font-size="7.3" font-weight="bold" text-anchor="end" fill="#000" textLength="6.9" lengthAdjust="spacingAndGlyphs">60</text>
<line x1="388.20000000000005" y1="202" x2="390.6" y2="202" stroke="#000" stroke-width="1.1"/>
<text x="387.0" y="203.6" font-size="7.3" font-weight="bold" text-anchor="end" fill="#000" textLength="6.9" lengthAdjust="spacingAndGlyphs">40</text>
<text x="387.0" y="213.60000000000002" font-size="7.3" font-weight="bold" text-anchor="end" fill="#000" textLength="6.9" lengthAdjust="spacingAndGlyphs">15</text>
<line x1="388.20000000000005" y1="229.60000000000002" x2="390.6" y2="229.60000000000002" stroke="#000" stroke-width="1.1"/>
<text x="387.0" y="231.60000000000002" font-size="7.3" font-weight="bold" text-anchor="end" fill="#000" textLength="6.9" lengthAdjust="spacingAndGlyphs">10</text>
<line x1="388.20000000000005" y1="247.60000000000002" x2="390.6" y2="247.60000000000002" stroke="#000" stroke-width="1.1"/>
<text x="387.0" y="249.60000000000002" font-size="7.3" font-weight="bold" text-anchor="end" fill="#000" textLength="3.45" lengthAdjust="spacingAndGlyphs">5</text>
<line x1="388.20000000000005" y1="265.6" x2="390.6" y2="265.6" stroke="#000" stroke-width="1.1"/>
<text x="387.0" y="267.6" font-size="7.3" font-weight="bold" text-anchor="end" fill="#000" textLength="3.45" lengthAdjust="spacingAndGlyphs">0</text>
<line x1="406.6" y1="265.6" x2="406.6" y2="268.0" stroke="#000" stroke-width="1.1"/>
<line x1="437.6" y1="265.6" x2="437.6" y2="268.0" stroke="#000" stroke-width="1.1"/>
<line x1="468.7" y1="265.6" x2="468.7" y2="268.0" stroke="#000" stroke-width="1.1"/>
<line x1="499.4" y1="265.6" x2="499.4" y2="268.0" stroke="#000" stroke-width="1.1"/>
<circle cx="401" cy="195.9" r="1.9" fill="#000"/>
<circle cx="405.9" cy="197.7" r="1.9" fill="#000"/>
<circle cx="410.8" cy="194.4" r="1.9" fill="#000"/>
<circle cx="403.1" cy="199.1" r="1.9" fill="#000"/>
<circle cx="405.9" cy="202.4" r="1.9" fill="#000"/>
<circle cx="408.7" cy="198.4" r="1.9" fill="#000"/>
<circle cx="400" cy="198.5" r="1.9" fill="#000"/>
<line x1="395.5" y1="198" x2="417" y2="198" stroke="#000" stroke-width="1.3"/>
<line x1="437.3" y1="173.4" x2="437.3" y2="187.6" stroke="#000" stroke-width="1.7"/>
<circle cx="437.3" cy="185.6" r="1.9" fill="#000"/>
<circle cx="438.6" cy="174.2" r="1.7" fill="#000"/>
<circle cx="434.2" cy="176.8" r="1.85" fill="#fff" stroke="#000" stroke-width="1.5"/>
<circle cx="440.3" cy="176.2" r="1.85" fill="#fff" stroke="#000" stroke-width="1.5"/>
<circle cx="434.3" cy="182.0" r="1.85" fill="#fff" stroke="#000" stroke-width="1.5"/>
<circle cx="440.2" cy="182.3" r="1.85" fill="#fff" stroke="#000" stroke-width="1.5"/>
<line x1="426.8" y1="179.3" x2="447.8" y2="179.3" stroke="#000" stroke-width="1.3"/>
<line x1="468.7" y1="247.3" x2="468.7" y2="265.2" stroke="#000" stroke-width="1.2"/>
<line x1="463" y1="252.2" x2="474.5" y2="252.2" stroke="#000" stroke-width="1.0"/>
<line x1="463" y1="260.6" x2="474.5" y2="260.6" stroke="#000" stroke-width="1.0"/>
<line x1="457.7" y1="255.8" x2="479.8" y2="255.8" stroke="#000" stroke-width="1.3"/>
<polygon points="459.8,253.132 463.8,253.132 461.8,249.668" fill="#000"/>
<polygon points="466.7,249.932 470.7,249.932 468.7,246.468" fill="#000"/>
<polygon points="474.2,255.332 478.2,255.332 476.2,251.868" fill="#000"/>
<polygon points="462.6,261.33200000000005 466.6,261.33200000000005 464.6,257.868" fill="#000"/>
<polygon points="470.2,262.53200000000004 474.2,262.53200000000004 472.2,259.068" fill="#000"/>
<polygon points="468.5,257.932 472.5,257.932 470.5,254.468" fill="#000"/>
<line x1="499.3" y1="223.5" x2="499.3" y2="246.5" stroke="#000" stroke-width="1.2"/>
<line x1="493.5" y1="227.8" x2="505.0" y2="227.8" stroke="#000" stroke-width="1.0"/>
<line x1="493.5" y1="242.2" x2="505.0" y2="242.2" stroke="#000" stroke-width="1.0"/>
<line x1="489.1" y1="235.4" x2="510.4" y2="235.4" stroke="#000" stroke-width="1.3"/>
<polygon points="497.3,222.868 501.3,222.868 499.3,226.332" fill="#000"/>
<polygon points="493.1,227.768 497.1,227.768 495.1,231.232" fill="#000"/>
<polygon points="501.6,227.768 505.6,227.768 503.6,231.232" fill="#000"/>
<polygon points="493.1,238.768 497.1,238.768 495.1,242.232" fill="#000"/>
<polygon points="502.4,240.468 506.4,240.468 504.4,243.932" fill="#000"/>
<polygon points="497.3,243.668 501.3,243.668 499.3,247.132" fill="#000"/>
<text x="403.3" y="163.0" font-size="6.4" font-weight="bold" text-anchor="start" fill="#000" style="stroke-width:0.1px">p***=0.0002</text>
<polyline points="405.3,170.3 405.3,166.3 436.0,166.3 436.0,170.3" fill="none" stroke="#000" stroke-width="1.1"/>
<text x="467.0" y="209.4" font-size="6.4" font-weight="bold" text-anchor="start" fill="#000" style="stroke-width:0.1px">p***=0.0009</text>
<polyline points="468.9,215.7 468.9,211.6 499.7,211.6 499.7,215.7" fill="none" stroke="#000" stroke-width="1.1"/>
<text x="375.0" y="217.8" font-size="8.4" font-weight="bold" text-anchor="middle" fill="#000" transform="rotate(-90 375.0 217.8)" textLength="96.5" lengthAdjust="spacingAndGlyphs">% donor-derived cells</text>
<text transform="translate(411.1 272.40000000000003) scale(1.08 1) rotate(-45)" x="0" y="0" font-size="8.1" font-weight="bold" text-anchor="end" style="stroke-width:0.12px">WT 1st</text>
<text transform="translate(439.40000000000003 271.20000000000005) scale(1.08 1) rotate(-45)" x="0" y="0" font-size="7.9" font-weight="bold" text-anchor="end" style="stroke-width:0.12px">Rx1+/- Cbfβ+/- 1st</text>
<text transform="translate(472.9 272.8) scale(1.08 1) rotate(-45)" x="0" y="0" font-size="8.1" font-weight="bold" text-anchor="end" style="stroke-width:0.12px">WT 2nd</text>
<text transform="translate(502.59999999999997 270.3) scale(1.08 1) rotate(-45)" x="0" y="0" font-size="7.9" font-weight="bold" text-anchor="end" style="stroke-width:0.12px">Rx1+/- Cbfβ+/- 2nd</text>
</svg></body></html>
